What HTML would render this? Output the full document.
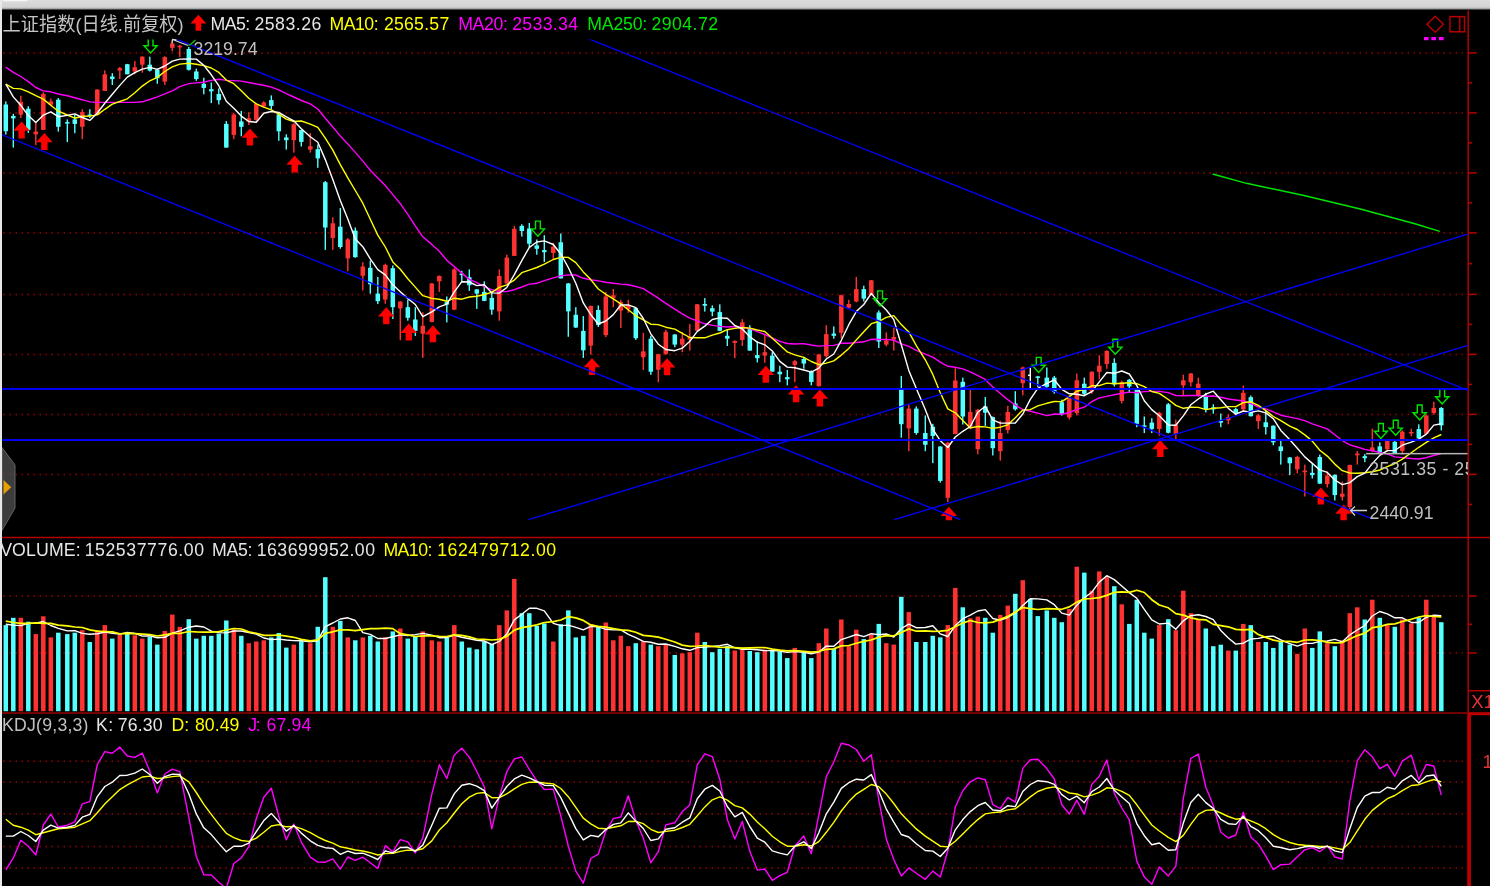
<!DOCTYPE html>
<html lang="zh"><head><meta charset="utf-8"><title>上证指数</title>
<style>html,body{margin:0;padding:0;background:#000;overflow:hidden}body{width:1490px;height:886px;position:relative}svg{will-change:transform;filter:blur(0.3px)}</style></head>
<body>
<svg width="1490" height="886" viewBox="0 0 1490 886" style="position:absolute;left:0;top:0">
<defs><linearGradient id="tg" x1="0" y1="0" x2="0" y2="1"><stop offset="0" stop-color="#dcdcdc"/><stop offset="0.68" stop-color="#d2d2d2"/><stop offset="0.8" stop-color="#a8a8a8"/><stop offset="0.97" stop-color="#000"/></linearGradient><clipPath id="cm"><rect x="2" y="39.5" width="1466" height="480.7"/></clipPath><clipPath id="cl"><rect x="2" y="9" width="1466" height="528"/></clipPath><clipPath id="ck"><rect x="2" y="714" width="1465" height="172"/></clipPath></defs>
<rect x="0" y="0" width="1490" height="886" fill="#000"/>
<g stroke="#a00000" stroke-width="1.5" stroke-dasharray="1.5 4.5">
<line x1="3.45" y1="52.9" x2="1464" y2="52.9"/>
<line x1="3.45" y1="112.9" x2="1464" y2="112.9"/>
<line x1="3.45" y1="172.9" x2="1464" y2="172.9"/>
<line x1="3.45" y1="232.9" x2="1464" y2="232.9"/>
<line x1="3.45" y1="294.4" x2="1464" y2="294.4"/>
<line x1="3.45" y1="354.4" x2="1464" y2="354.4"/>
<line x1="3.45" y1="414.4" x2="1464" y2="414.4"/>
<line x1="3.45" y1="474.4" x2="1464" y2="474.4"/>
<line x1="3.45" y1="596.0" x2="1464" y2="596.0"/>
<line x1="3.45" y1="653.0" x2="1464" y2="653.0"/>
<line x1="3.45" y1="761.2" x2="1464" y2="761.2"/>
<line x1="3.45" y1="781.9" x2="1464" y2="781.9"/>
<line x1="3.45" y1="813.7" x2="1464" y2="813.7"/>
<line x1="3.45" y1="846.6" x2="1464" y2="846.6"/>
<line x1="3.45" y1="867.9" x2="1464" y2="867.9"/>
</g>
<rect x="1352" y="458" width="115" height="20" fill="#000"/>
<g fill="#b40000">
<rect x="1467.45" y="9" width="1.5" height="705"/>
<rect x="1467.2" y="713" width="3.7" height="173" fill="#c00000"/>
<rect x="2" y="536.75" width="1488" height="1.5"/>
<rect x="2" y="712.2" width="1466" height="1.6" fill="#8c0000"/>
<rect x="1468" y="712.2" width="22" height="3" fill="#c00000"/>
<rect x="1468.9" y="52.15" width="7.8" height="1.5"/>
<rect x="1468.9" y="82.15" width="3.3" height="1.5"/>
<rect x="1468.9" y="112.15" width="7.8" height="1.5"/>
<rect x="1468.9" y="142.15" width="3.3" height="1.5"/>
<rect x="1468.9" y="172.15" width="7.8" height="1.5"/>
<rect x="1468.9" y="202.15" width="3.3" height="1.5"/>
<rect x="1468.9" y="232.15" width="7.8" height="1.5"/>
<rect x="1468.9" y="262.95" width="3.3" height="1.5"/>
<rect x="1468.9" y="293.65" width="7.8" height="1.5"/>
<rect x="1468.9" y="323.65" width="3.3" height="1.5"/>
<rect x="1468.9" y="353.65" width="7.8" height="1.5"/>
<rect x="1468.9" y="383.65" width="3.3" height="1.5"/>
<rect x="1468.9" y="413.65" width="7.8" height="1.5"/>
<rect x="1468.9" y="443.65" width="3.3" height="1.5"/>
<rect x="1468.9" y="473.65" width="7.8" height="1.5"/>
<rect x="1468.9" y="503.65" width="3.3" height="1.5"/>
<rect x="1468.9" y="595.25" width="7.8" height="1.5"/>
<rect x="1468.9" y="652.25" width="7.8" height="1.5"/>
<rect x="1468.9" y="623.5" width="3.3" height="1.5"/>
<rect x="1468.9" y="690" width="21.1" height="1.5"/>
</g>
<g clip-path="url(#cl)">
<g>
<rect x="5.10" y="101.4" width="1.4" height="33.2" fill="#54ffff"/>
<rect x="3.55" y="104.5" width="4.5" height="26.7" fill="#54ffff"/>
<rect x="12.60" y="113.8" width="1.4" height="33.8" fill="#54ffff"/>
<rect x="11.05" y="116.0" width="4.5" height="2.4" fill="#54ffff"/>
<rect x="20.10" y="95.7" width="1.4" height="22.3" fill="#ff3232"/>
<rect x="18.55" y="101.9" width="4.5" height="12.7" fill="#ff3232"/>
<rect x="27.60" y="106.2" width="1.4" height="26.7" fill="#54ffff"/>
<rect x="26.05" y="108.7" width="4.5" height="21.2" fill="#54ffff"/>
<rect x="35.10" y="122.8" width="1.4" height="22.3" fill="#ff3232"/>
<rect x="33.55" y="131.6" width="4.5" height="2.7" fill="#ff3232"/>
<rect x="42.60" y="92.3" width="1.4" height="37.6" fill="#ff3232"/>
<rect x="41.05" y="94.0" width="4.5" height="35.9" fill="#ff3232"/>
<rect x="50.10" y="98.6" width="1.4" height="7.6" fill="#ff3232"/>
<rect x="48.55" y="101.4" width="4.5" height="3.4" fill="#ff3232"/>
<rect x="57.60" y="98.0" width="1.4" height="33.6" fill="#54ffff"/>
<rect x="56.05" y="99.7" width="4.5" height="27.1" fill="#54ffff"/>
<rect x="66.60" y="119.4" width="1.4" height="22.7" fill="#54ffff"/>
<rect x="65.05" y="122.1" width="4.5" height="1.5" fill="#54ffff"/>
<rect x="74.10" y="114.6" width="1.4" height="18.6" fill="#54ffff"/>
<rect x="72.55" y="119.4" width="4.5" height="4.5" fill="#54ffff"/>
<rect x="81.60" y="109.2" width="1.4" height="30.0" fill="#ff3232"/>
<rect x="80.05" y="112.1" width="4.5" height="14.7" fill="#ff3232"/>
<rect x="89.10" y="109.2" width="1.4" height="8.8" fill="#54ffff"/>
<rect x="87.55" y="114.5" width="4.5" height="1.5" fill="#54ffff"/>
<rect x="96.60" y="89.2" width="1.4" height="25.4" fill="#ff3232"/>
<rect x="95.05" y="89.6" width="4.5" height="25.0" fill="#ff3232"/>
<rect x="104.10" y="70.3" width="1.4" height="20.6" fill="#ff3232"/>
<rect x="102.55" y="74.3" width="4.5" height="16.6" fill="#ff3232"/>
<rect x="111.60" y="73.2" width="1.4" height="11.8" fill="#54ffff"/>
<rect x="110.05" y="76.5" width="4.5" height="2.6" fill="#54ffff"/>
<rect x="119.10" y="66.9" width="1.4" height="12.2" fill="#ff3232"/>
<rect x="117.55" y="68.1" width="4.5" height="2.5" fill="#ff3232"/>
<rect x="126.60" y="63.9" width="1.4" height="10.4" fill="#54ffff"/>
<rect x="125.05" y="64.2" width="4.5" height="10.1" fill="#54ffff"/>
<rect x="134.10" y="61.0" width="1.4" height="13.3" fill="#ff3232"/>
<rect x="132.55" y="67.2" width="4.5" height="4.3" fill="#ff3232"/>
<rect x="141.60" y="56.2" width="1.4" height="16.5" fill="#ff3232"/>
<rect x="140.05" y="56.7" width="4.5" height="8.0" fill="#ff3232"/>
<rect x="149.10" y="56.7" width="1.4" height="14.8" fill="#54ffff"/>
<rect x="147.55" y="64.7" width="4.5" height="5.9" fill="#54ffff"/>
<rect x="156.60" y="68.6" width="1.4" height="15.2" fill="#54ffff"/>
<rect x="155.05" y="69.8" width="4.5" height="8.4" fill="#54ffff"/>
<rect x="164.10" y="56.2" width="1.4" height="28.8" fill="#ff3232"/>
<rect x="162.55" y="57.1" width="4.5" height="24.5" fill="#ff3232"/>
<rect x="171.60" y="39.8" width="1.4" height="11.4" fill="#ff3232"/>
<rect x="170.05" y="43.5" width="4.5" height="4.3" fill="#ff3232"/>
<rect x="179.10" y="44.9" width="1.4" height="12.2" fill="#ff3232"/>
<rect x="177.55" y="45.8" width="4.5" height="1.5" fill="#ff3232"/>
<rect x="188.10" y="46.9" width="1.4" height="23.7" fill="#54ffff"/>
<rect x="186.55" y="49.0" width="4.5" height="20.8" fill="#54ffff"/>
<rect x="195.60" y="68.6" width="1.4" height="12.2" fill="#54ffff"/>
<rect x="194.05" y="71.5" width="4.5" height="7.6" fill="#54ffff"/>
<rect x="203.10" y="77.7" width="1.4" height="16.6" fill="#54ffff"/>
<rect x="201.55" y="83.8" width="4.5" height="4.1" fill="#54ffff"/>
<rect x="210.60" y="82.5" width="1.4" height="20.6" fill="#54ffff"/>
<rect x="209.05" y="89.2" width="4.5" height="2.1" fill="#54ffff"/>
<rect x="218.10" y="88.4" width="1.4" height="16.1" fill="#54ffff"/>
<rect x="216.55" y="94.0" width="4.5" height="6.2" fill="#54ffff"/>
<rect x="225.60" y="121.1" width="1.4" height="26.5" fill="#54ffff"/>
<rect x="224.05" y="123.9" width="4.5" height="23.7" fill="#54ffff"/>
<rect x="233.10" y="112.9" width="1.4" height="26.3" fill="#ff3232"/>
<rect x="231.55" y="114.6" width="4.5" height="20.3" fill="#ff3232"/>
<rect x="240.60" y="110.9" width="1.4" height="25.4" fill="#54ffff"/>
<rect x="239.05" y="121.4" width="4.5" height="5.4" fill="#54ffff"/>
<rect x="248.10" y="112.3" width="1.4" height="12.7" fill="#ff3232"/>
<rect x="246.55" y="118.2" width="4.5" height="3.4" fill="#ff3232"/>
<rect x="255.60" y="103.5" width="1.4" height="18.1" fill="#ff3232"/>
<rect x="254.05" y="103.9" width="4.5" height="16.0" fill="#ff3232"/>
<rect x="263.10" y="101.3" width="1.4" height="6.3" fill="#ff3232"/>
<rect x="261.55" y="102.5" width="4.5" height="3.9" fill="#ff3232"/>
<rect x="270.60" y="95.4" width="1.4" height="13.9" fill="#54ffff"/>
<rect x="269.05" y="100.1" width="4.5" height="5.8" fill="#54ffff"/>
<rect x="278.10" y="113.2" width="1.4" height="27.6" fill="#54ffff"/>
<rect x="276.55" y="114.3" width="4.5" height="17.0" fill="#54ffff"/>
<rect x="285.60" y="134.3" width="1.4" height="15.3" fill="#54ffff"/>
<rect x="284.05" y="137.4" width="4.5" height="2.8" fill="#54ffff"/>
<rect x="293.10" y="123.3" width="1.4" height="29.3" fill="#ff3232"/>
<rect x="291.55" y="124.2" width="4.5" height="16.0" fill="#ff3232"/>
<rect x="300.60" y="129.6" width="1.4" height="16.9" fill="#54ffff"/>
<rect x="299.05" y="130.1" width="4.5" height="11.8" fill="#54ffff"/>
<rect x="309.60" y="133.0" width="1.4" height="19.6" fill="#ff3232"/>
<rect x="308.05" y="146.2" width="4.5" height="3.4" fill="#ff3232"/>
<rect x="317.10" y="144.5" width="1.4" height="23.3" fill="#54ffff"/>
<rect x="315.55" y="149.2" width="4.5" height="9.2" fill="#54ffff"/>
<rect x="324.60" y="181.0" width="1.4" height="68.9" fill="#54ffff"/>
<rect x="323.05" y="182.2" width="4.5" height="45.3" fill="#54ffff"/>
<rect x="332.10" y="217.4" width="1.4" height="32.5" fill="#ff3232"/>
<rect x="330.55" y="223.3" width="4.5" height="14.7" fill="#ff3232"/>
<rect x="339.60" y="208.1" width="1.4" height="40.6" fill="#54ffff"/>
<rect x="338.05" y="226.7" width="4.5" height="20.3" fill="#54ffff"/>
<rect x="347.10" y="238.0" width="1.4" height="33.2" fill="#ff3232"/>
<rect x="345.55" y="239.4" width="4.5" height="19.0" fill="#ff3232"/>
<rect x="354.60" y="227.5" width="1.4" height="30.2" fill="#54ffff"/>
<rect x="353.05" y="230.6" width="4.5" height="26.6" fill="#54ffff"/>
<rect x="362.10" y="262.2" width="1.4" height="28.3" fill="#ff3232"/>
<rect x="360.55" y="266.5" width="4.5" height="9.3" fill="#ff3232"/>
<rect x="369.60" y="260.6" width="1.4" height="33.0" fill="#54ffff"/>
<rect x="368.05" y="267.8" width="4.5" height="16.5" fill="#54ffff"/>
<rect x="377.10" y="277.0" width="1.4" height="27.1" fill="#54ffff"/>
<rect x="375.55" y="293.6" width="4.5" height="7.6" fill="#54ffff"/>
<rect x="384.60" y="263.7" width="1.4" height="40.1" fill="#ff3232"/>
<rect x="383.05" y="264.9" width="4.5" height="34.7" fill="#ff3232"/>
<rect x="392.10" y="265.4" width="1.4" height="53.6" fill="#54ffff"/>
<rect x="390.55" y="268.2" width="4.5" height="39.0" fill="#54ffff"/>
<rect x="399.60" y="301.2" width="1.4" height="39.0" fill="#ff3232"/>
<rect x="398.05" y="301.6" width="4.5" height="6.8" fill="#ff3232"/>
<rect x="407.10" y="299.6" width="1.4" height="21.1" fill="#54ffff"/>
<rect x="405.55" y="307.2" width="4.5" height="10.6" fill="#54ffff"/>
<rect x="414.60" y="307.2" width="1.4" height="28.7" fill="#54ffff"/>
<rect x="413.05" y="319.5" width="4.5" height="11.4" fill="#54ffff"/>
<rect x="422.10" y="312.2" width="1.4" height="45.7" fill="#ff3232"/>
<rect x="420.55" y="325.8" width="4.5" height="7.9" fill="#ff3232"/>
<rect x="431.10" y="283.0" width="1.4" height="39.4" fill="#ff3232"/>
<rect x="429.55" y="283.5" width="4.5" height="38.4" fill="#ff3232"/>
<rect x="438.60" y="275.5" width="1.4" height="16.4" fill="#ff3232"/>
<rect x="437.05" y="275.9" width="4.5" height="5.4" fill="#ff3232"/>
<rect x="446.10" y="296.5" width="1.4" height="25.9" fill="#54ffff"/>
<rect x="444.55" y="302.1" width="4.5" height="2.5" fill="#54ffff"/>
<rect x="453.60" y="268.2" width="1.4" height="41.8" fill="#ff3232"/>
<rect x="452.05" y="269.4" width="4.5" height="40.3" fill="#ff3232"/>
<rect x="461.10" y="270.8" width="1.4" height="11.0" fill="#54ffff"/>
<rect x="459.55" y="273.6" width="4.5" height="1.5" fill="#54ffff"/>
<rect x="468.60" y="269.4" width="1.4" height="21.4" fill="#54ffff"/>
<rect x="467.05" y="277.2" width="4.5" height="8.0" fill="#54ffff"/>
<rect x="476.10" y="289.1" width="1.4" height="19.8" fill="#54ffff"/>
<rect x="474.55" y="289.4" width="4.5" height="4.2" fill="#54ffff"/>
<rect x="483.60" y="281.3" width="1.4" height="19.9" fill="#54ffff"/>
<rect x="482.05" y="291.9" width="4.5" height="9.0" fill="#54ffff"/>
<rect x="491.10" y="291.1" width="1.4" height="23.7" fill="#54ffff"/>
<rect x="489.55" y="297.9" width="4.5" height="11.8" fill="#54ffff"/>
<rect x="498.60" y="269.4" width="1.4" height="51.3" fill="#ff3232"/>
<rect x="497.05" y="275.9" width="4.5" height="35.5" fill="#ff3232"/>
<rect x="506.10" y="254.7" width="1.4" height="28.8" fill="#ff3232"/>
<rect x="504.55" y="257.6" width="4.5" height="25.9" fill="#ff3232"/>
<rect x="513.60" y="225.9" width="1.4" height="30.0" fill="#ff3232"/>
<rect x="512.05" y="228.8" width="4.5" height="27.1" fill="#ff3232"/>
<rect x="521.10" y="224.2" width="1.4" height="12.4" fill="#54ffff"/>
<rect x="519.55" y="225.9" width="4.5" height="5.1" fill="#54ffff"/>
<rect x="528.60" y="223.0" width="1.4" height="24.1" fill="#54ffff"/>
<rect x="527.05" y="228.5" width="4.5" height="15.2" fill="#54ffff"/>
<rect x="536.10" y="239.5" width="1.4" height="15.2" fill="#54ffff"/>
<rect x="534.55" y="245.4" width="4.5" height="3.4" fill="#54ffff"/>
<rect x="543.60" y="235.2" width="1.4" height="26.8" fill="#54ffff"/>
<rect x="542.05" y="250.1" width="4.5" height="2.1" fill="#54ffff"/>
<rect x="552.60" y="242.9" width="1.4" height="16.0" fill="#ff3232"/>
<rect x="551.05" y="246.7" width="4.5" height="6.3" fill="#ff3232"/>
<rect x="560.10" y="233.5" width="1.4" height="44.9" fill="#54ffff"/>
<rect x="558.55" y="242.3" width="4.5" height="36.1" fill="#54ffff"/>
<rect x="567.60" y="283.0" width="1.4" height="53.8" fill="#54ffff"/>
<rect x="566.05" y="283.5" width="4.5" height="27.9" fill="#54ffff"/>
<rect x="575.10" y="307.2" width="1.4" height="20.8" fill="#54ffff"/>
<rect x="573.55" y="314.8" width="4.5" height="12.7" fill="#54ffff"/>
<rect x="582.60" y="316.1" width="1.4" height="41.8" fill="#54ffff"/>
<rect x="581.05" y="330.9" width="4.5" height="19.4" fill="#54ffff"/>
<rect x="590.10" y="305.5" width="1.4" height="49.1" fill="#ff3232"/>
<rect x="588.55" y="306.0" width="4.5" height="39.6" fill="#ff3232"/>
<rect x="597.60" y="305.5" width="1.4" height="21.5" fill="#54ffff"/>
<rect x="596.05" y="310.0" width="4.5" height="14.9" fill="#54ffff"/>
<rect x="605.10" y="291.9" width="1.4" height="45.2" fill="#ff3232"/>
<rect x="603.55" y="296.5" width="4.5" height="38.6" fill="#ff3232"/>
<rect x="612.60" y="289.1" width="1.4" height="18.1" fill="#ff3232"/>
<rect x="611.05" y="295.3" width="4.5" height="2.9" fill="#ff3232"/>
<rect x="620.10" y="299.9" width="1.4" height="28.1" fill="#ff3232"/>
<rect x="618.55" y="302.1" width="4.5" height="8.5" fill="#ff3232"/>
<rect x="627.60" y="299.8" width="1.4" height="13.0" fill="#ff3232"/>
<rect x="626.05" y="305.7" width="4.5" height="3.4" fill="#ff3232"/>
<rect x="635.10" y="307.4" width="1.4" height="32.5" fill="#54ffff"/>
<rect x="633.55" y="308.2" width="4.5" height="30.0" fill="#54ffff"/>
<rect x="642.60" y="332.8" width="1.4" height="37.2" fill="#ff3232"/>
<rect x="641.05" y="351.4" width="4.5" height="5.9" fill="#ff3232"/>
<rect x="650.10" y="335.8" width="1.4" height="39.0" fill="#54ffff"/>
<rect x="648.55" y="338.7" width="4.5" height="33.0" fill="#54ffff"/>
<rect x="657.60" y="353.9" width="1.4" height="28.3" fill="#ff3232"/>
<rect x="656.05" y="354.1" width="4.5" height="15.6" fill="#ff3232"/>
<rect x="665.10" y="329.7" width="1.4" height="25.1" fill="#ff3232"/>
<rect x="663.55" y="331.9" width="4.5" height="22.0" fill="#ff3232"/>
<rect x="674.10" y="334.1" width="1.4" height="13.1" fill="#54ffff"/>
<rect x="672.55" y="334.5" width="4.5" height="10.1" fill="#54ffff"/>
<rect x="681.60" y="331.9" width="1.4" height="20.3" fill="#ff3232"/>
<rect x="680.05" y="338.7" width="4.5" height="5.9" fill="#ff3232"/>
<rect x="689.10" y="324.0" width="1.4" height="26.6" fill="#ff3232"/>
<rect x="687.55" y="337.0" width="4.5" height="2.6" fill="#ff3232"/>
<rect x="696.60" y="304.0" width="1.4" height="27.1" fill="#ff3232"/>
<rect x="695.05" y="304.3" width="4.5" height="26.5" fill="#ff3232"/>
<rect x="704.10" y="298.1" width="1.4" height="13.5" fill="#54ffff"/>
<rect x="702.55" y="304.0" width="4.5" height="1.7" fill="#54ffff"/>
<rect x="711.60" y="305.4" width="1.4" height="10.8" fill="#54ffff"/>
<rect x="710.05" y="308.2" width="4.5" height="3.4" fill="#54ffff"/>
<rect x="719.10" y="304.3" width="1.4" height="26.8" fill="#54ffff"/>
<rect x="717.55" y="312.1" width="4.5" height="18.7" fill="#54ffff"/>
<rect x="726.60" y="329.1" width="1.4" height="16.9" fill="#54ffff"/>
<rect x="725.05" y="335.8" width="4.5" height="2.9" fill="#54ffff"/>
<rect x="734.10" y="340.4" width="1.4" height="17.8" fill="#ff3232"/>
<rect x="732.55" y="340.9" width="4.5" height="2.0" fill="#ff3232"/>
<rect x="741.60" y="319.2" width="1.4" height="26.8" fill="#ff3232"/>
<rect x="740.05" y="322.3" width="4.5" height="17.6" fill="#ff3232"/>
<rect x="749.10" y="325.2" width="1.4" height="25.4" fill="#54ffff"/>
<rect x="747.55" y="328.0" width="4.5" height="22.6" fill="#54ffff"/>
<rect x="756.60" y="341.2" width="1.4" height="21.2" fill="#54ffff"/>
<rect x="755.05" y="355.1" width="4.5" height="3.1" fill="#54ffff"/>
<rect x="764.10" y="334.8" width="1.4" height="28.1" fill="#ff3232"/>
<rect x="762.55" y="352.2" width="4.5" height="3.4" fill="#ff3232"/>
<rect x="771.60" y="352.2" width="1.4" height="19.5" fill="#54ffff"/>
<rect x="770.05" y="355.6" width="4.5" height="16.1" fill="#54ffff"/>
<rect x="779.10" y="365.8" width="1.4" height="16.4" fill="#54ffff"/>
<rect x="777.55" y="371.7" width="4.5" height="2.6" fill="#54ffff"/>
<rect x="786.60" y="370.0" width="1.4" height="15.3" fill="#54ffff"/>
<rect x="785.05" y="377.1" width="4.5" height="2.2" fill="#54ffff"/>
<rect x="794.10" y="359.9" width="1.4" height="22.3" fill="#ff3232"/>
<rect x="792.55" y="361.2" width="4.5" height="3.7" fill="#ff3232"/>
<rect x="803.10" y="356.8" width="1.4" height="11.9" fill="#54ffff"/>
<rect x="801.55" y="359.0" width="4.5" height="4.6" fill="#54ffff"/>
<rect x="810.60" y="370.4" width="1.4" height="14.9" fill="#54ffff"/>
<rect x="809.05" y="371.4" width="4.5" height="10.5" fill="#54ffff"/>
<rect x="818.10" y="353.9" width="1.4" height="32.7" fill="#ff3232"/>
<rect x="816.55" y="354.4" width="4.5" height="31.7" fill="#ff3232"/>
<rect x="825.60" y="325.2" width="1.4" height="32.6" fill="#ff3232"/>
<rect x="824.05" y="334.1" width="4.5" height="22.0" fill="#ff3232"/>
<rect x="833.10" y="326.4" width="1.4" height="12.3" fill="#54ffff"/>
<rect x="831.55" y="333.6" width="4.5" height="2.2" fill="#54ffff"/>
<rect x="840.60" y="294.7" width="1.4" height="43.5" fill="#ff3232"/>
<rect x="839.05" y="295.2" width="4.5" height="37.6" fill="#ff3232"/>
<rect x="848.10" y="299.8" width="1.4" height="9.3" fill="#ff3232"/>
<rect x="846.55" y="304.0" width="4.5" height="3.7" fill="#ff3232"/>
<rect x="855.60" y="276.9" width="1.4" height="25.4" fill="#ff3232"/>
<rect x="854.05" y="289.1" width="4.5" height="12.4" fill="#ff3232"/>
<rect x="863.10" y="285.7" width="1.4" height="15.8" fill="#54ffff"/>
<rect x="861.55" y="289.1" width="4.5" height="9.5" fill="#54ffff"/>
<rect x="870.60" y="280.0" width="1.4" height="15.5" fill="#ff3232"/>
<rect x="869.05" y="280.3" width="4.5" height="14.4" fill="#ff3232"/>
<rect x="878.10" y="310.4" width="1.4" height="37.6" fill="#54ffff"/>
<rect x="876.55" y="312.5" width="4.5" height="29.1" fill="#54ffff"/>
<rect x="885.60" y="332.4" width="1.4" height="13.9" fill="#ff3232"/>
<rect x="884.05" y="340.4" width="4.5" height="4.2" fill="#ff3232"/>
<rect x="893.10" y="327.7" width="1.4" height="22.9" fill="#ff3232"/>
<rect x="891.55" y="337.0" width="4.5" height="2.6" fill="#ff3232"/>
<rect x="900.60" y="375.9" width="1.4" height="61.8" fill="#54ffff"/>
<rect x="899.05" y="389.0" width="4.5" height="35.2" fill="#54ffff"/>
<rect x="908.10" y="404.7" width="1.4" height="46.5" fill="#ff3232"/>
<rect x="906.55" y="408.6" width="4.5" height="19.8" fill="#ff3232"/>
<rect x="915.60" y="406.4" width="1.4" height="28.3" fill="#54ffff"/>
<rect x="914.05" y="408.6" width="4.5" height="24.4" fill="#54ffff"/>
<rect x="924.60" y="415.4" width="1.4" height="35.8" fill="#54ffff"/>
<rect x="923.05" y="433.0" width="4.5" height="11.8" fill="#54ffff"/>
<rect x="932.10" y="423.8" width="1.4" height="39.3" fill="#54ffff"/>
<rect x="930.55" y="426.7" width="4.5" height="9.3" fill="#54ffff"/>
<rect x="939.60" y="446.2" width="1.4" height="36.4" fill="#54ffff"/>
<rect x="938.05" y="446.5" width="4.5" height="34.4" fill="#54ffff"/>
<rect x="947.10" y="441.9" width="1.4" height="60.1" fill="#ff3232"/>
<rect x="945.55" y="442.8" width="4.5" height="55.0" fill="#ff3232"/>
<rect x="954.60" y="368.3" width="1.4" height="66.0" fill="#ff3232"/>
<rect x="953.05" y="380.5" width="4.5" height="53.5" fill="#ff3232"/>
<rect x="962.10" y="377.6" width="1.4" height="46.9" fill="#54ffff"/>
<rect x="960.55" y="381.8" width="4.5" height="34.7" fill="#54ffff"/>
<rect x="969.60" y="389.5" width="1.4" height="39.7" fill="#ff3232"/>
<rect x="968.05" y="412.0" width="4.5" height="16.4" fill="#ff3232"/>
<rect x="977.10" y="408.9" width="1.4" height="45.4" fill="#ff3232"/>
<rect x="975.55" y="409.8" width="4.5" height="39.4" fill="#ff3232"/>
<rect x="984.60" y="397.1" width="1.4" height="28.8" fill="#54ffff"/>
<rect x="983.05" y="406.4" width="4.5" height="6.3" fill="#54ffff"/>
<rect x="992.10" y="416.5" width="1.4" height="39.0" fill="#54ffff"/>
<rect x="990.55" y="417.1" width="4.5" height="31.1" fill="#54ffff"/>
<rect x="999.60" y="420.8" width="1.4" height="39.8" fill="#ff3232"/>
<rect x="998.05" y="433.0" width="4.5" height="18.2" fill="#ff3232"/>
<rect x="1007.10" y="405.9" width="1.4" height="27.6" fill="#ff3232"/>
<rect x="1005.55" y="412.0" width="4.5" height="18.1" fill="#ff3232"/>
<rect x="1014.60" y="391.2" width="1.4" height="19.4" fill="#54ffff"/>
<rect x="1013.05" y="403.5" width="4.5" height="5.8" fill="#54ffff"/>
<rect x="1022.10" y="366.6" width="1.4" height="28.8" fill="#ff3232"/>
<rect x="1020.55" y="367.5" width="4.5" height="15.7" fill="#ff3232"/>
<rect x="1029.60" y="368.0" width="1.4" height="20.6" fill="#ffffff"/>
<rect x="1028.05" y="374.5" width="3" height="1.5" fill="#ffffff"/>
<rect x="1037.10" y="375.9" width="1.4" height="11.0" fill="#54ffff"/>
<rect x="1035.55" y="376.4" width="4.5" height="1.5" fill="#54ffff"/>
<rect x="1046.10" y="367.5" width="1.4" height="20.3" fill="#54ffff"/>
<rect x="1044.55" y="377.6" width="4.5" height="9.3" fill="#54ffff"/>
<rect x="1053.60" y="375.9" width="1.4" height="17.8" fill="#54ffff"/>
<rect x="1052.05" y="377.6" width="4.5" height="14.4" fill="#54ffff"/>
<rect x="1061.10" y="399.6" width="1.4" height="16.1" fill="#54ffff"/>
<rect x="1059.55" y="402.2" width="4.5" height="12.1" fill="#54ffff"/>
<rect x="1068.60" y="395.4" width="1.4" height="24.0" fill="#ff3232"/>
<rect x="1067.05" y="397.9" width="4.5" height="19.5" fill="#ff3232"/>
<rect x="1076.10" y="373.5" width="1.4" height="41.8" fill="#ff3232"/>
<rect x="1074.55" y="380.3" width="4.5" height="32.8" fill="#ff3232"/>
<rect x="1083.60" y="377.6" width="1.4" height="17.9" fill="#54ffff"/>
<rect x="1082.05" y="383.7" width="4.5" height="10.1" fill="#54ffff"/>
<rect x="1091.10" y="371.3" width="1.4" height="22.5" fill="#ff3232"/>
<rect x="1089.55" y="371.8" width="4.5" height="19.8" fill="#ff3232"/>
<rect x="1098.60" y="355.2" width="1.4" height="24.1" fill="#ff3232"/>
<rect x="1097.05" y="365.7" width="4.5" height="6.1" fill="#ff3232"/>
<rect x="1106.10" y="350.2" width="1.4" height="18.6" fill="#ff3232"/>
<rect x="1104.55" y="351.0" width="4.5" height="13.0" fill="#ff3232"/>
<rect x="1113.60" y="358.3" width="1.4" height="28.2" fill="#54ffff"/>
<rect x="1112.05" y="362.9" width="4.5" height="21.4" fill="#54ffff"/>
<rect x="1121.10" y="380.6" width="1.4" height="22.9" fill="#ff3232"/>
<rect x="1119.55" y="382.3" width="4.5" height="18.6" fill="#ff3232"/>
<rect x="1128.60" y="378.9" width="1.4" height="13.9" fill="#54ffff"/>
<rect x="1127.05" y="379.8" width="4.5" height="6.7" fill="#54ffff"/>
<rect x="1136.10" y="388.2" width="1.4" height="39.0" fill="#54ffff"/>
<rect x="1134.55" y="389.4" width="4.5" height="34.4" fill="#54ffff"/>
<rect x="1143.60" y="416.5" width="1.4" height="16.6" fill="#54ffff"/>
<rect x="1142.05" y="425.4" width="4.5" height="1.5" fill="#54ffff"/>
<rect x="1151.10" y="418.2" width="1.4" height="14.9" fill="#54ffff"/>
<rect x="1149.55" y="422.6" width="4.5" height="6.3" fill="#54ffff"/>
<rect x="1158.60" y="411.9" width="1.4" height="23.7" fill="#ff3232"/>
<rect x="1157.05" y="412.8" width="4.5" height="16.1" fill="#ff3232"/>
<rect x="1167.60" y="403.0" width="1.4" height="30.4" fill="#54ffff"/>
<rect x="1166.05" y="404.3" width="4.5" height="28.5" fill="#54ffff"/>
<rect x="1175.10" y="419.6" width="1.4" height="19.4" fill="#ff3232"/>
<rect x="1173.55" y="424.6" width="4.5" height="9.3" fill="#ff3232"/>
<rect x="1182.60" y="374.7" width="1.4" height="21.2" fill="#ff3232"/>
<rect x="1181.05" y="380.3" width="4.5" height="5.1" fill="#ff3232"/>
<rect x="1190.10" y="373.0" width="1.4" height="13.5" fill="#ff3232"/>
<rect x="1188.55" y="373.5" width="4.5" height="8.8" fill="#ff3232"/>
<rect x="1197.60" y="377.6" width="1.4" height="19.1" fill="#ff3232"/>
<rect x="1196.05" y="383.7" width="4.5" height="12.2" fill="#ff3232"/>
<rect x="1205.10" y="392.8" width="1.4" height="19.6" fill="#54ffff"/>
<rect x="1203.55" y="395.9" width="4.5" height="13.2" fill="#54ffff"/>
<rect x="1212.60" y="404.3" width="1.4" height="9.3" fill="#54ffff"/>
<rect x="1211.05" y="407.4" width="4.5" height="2.0" fill="#54ffff"/>
<rect x="1220.10" y="413.6" width="1.4" height="13.6" fill="#54ffff"/>
<rect x="1218.55" y="420.9" width="4.5" height="1.7" fill="#54ffff"/>
<rect x="1227.60" y="414.5" width="1.4" height="9.8" fill="#ff3232"/>
<rect x="1226.05" y="417.0" width="4.5" height="3.4" fill="#ff3232"/>
<rect x="1235.10" y="407.7" width="1.4" height="7.6" fill="#54ffff"/>
<rect x="1233.55" y="409.1" width="4.5" height="4.0" fill="#54ffff"/>
<rect x="1242.60" y="385.4" width="1.4" height="25.7" fill="#ff3232"/>
<rect x="1241.05" y="392.8" width="4.5" height="16.6" fill="#ff3232"/>
<rect x="1250.10" y="395.5" width="1.4" height="21.0" fill="#54ffff"/>
<rect x="1248.55" y="397.2" width="4.5" height="19.0" fill="#54ffff"/>
<rect x="1257.60" y="414.1" width="1.4" height="14.8" fill="#ff3232"/>
<rect x="1256.05" y="415.3" width="4.5" height="5.9" fill="#ff3232"/>
<rect x="1265.10" y="410.8" width="1.4" height="23.7" fill="#54ffff"/>
<rect x="1263.55" y="422.3" width="4.5" height="4.8" fill="#54ffff"/>
<rect x="1272.60" y="425.4" width="1.4" height="19.8" fill="#54ffff"/>
<rect x="1271.05" y="425.7" width="4.5" height="16.6" fill="#54ffff"/>
<rect x="1280.10" y="440.6" width="1.4" height="24.0" fill="#54ffff"/>
<rect x="1278.55" y="446.4" width="4.5" height="4.7" fill="#54ffff"/>
<rect x="1289.10" y="457.0" width="1.4" height="18.1" fill="#54ffff"/>
<rect x="1287.55" y="457.5" width="4.5" height="5.8" fill="#54ffff"/>
<rect x="1296.60" y="455.8" width="1.4" height="17.6" fill="#ff3232"/>
<rect x="1295.05" y="457.0" width="4.5" height="12.4" fill="#ff3232"/>
<rect x="1304.10" y="464.6" width="1.4" height="31.9" fill="#ff3232"/>
<rect x="1302.55" y="470.6" width="4.5" height="1.6" fill="#ff3232"/>
<rect x="1311.60" y="463.8" width="1.4" height="14.7" fill="#54ffff"/>
<rect x="1310.05" y="472.8" width="4.5" height="2.3" fill="#54ffff"/>
<rect x="1319.10" y="454.5" width="1.4" height="29.6" fill="#54ffff"/>
<rect x="1317.55" y="457.0" width="4.5" height="26.6" fill="#54ffff"/>
<rect x="1326.60" y="471.4" width="1.4" height="16.1" fill="#ff3232"/>
<rect x="1325.05" y="475.6" width="4.5" height="8.5" fill="#ff3232"/>
<rect x="1334.10" y="474.4" width="1.4" height="26.1" fill="#54ffff"/>
<rect x="1332.55" y="474.8" width="4.5" height="20.3" fill="#54ffff"/>
<rect x="1341.60" y="481.6" width="1.4" height="18.9" fill="#ff3232"/>
<rect x="1340.05" y="493.7" width="4.5" height="3.1" fill="#ff3232"/>
<rect x="1349.10" y="464.6" width="1.4" height="44.9" fill="#ff3232"/>
<rect x="1347.55" y="465.0" width="4.5" height="41.9" fill="#ff3232"/>
<rect x="1356.60" y="451.1" width="1.4" height="13.5" fill="#ff3232"/>
<rect x="1355.05" y="453.6" width="4.5" height="1.7" fill="#ff3232"/>
<rect x="1364.10" y="454.1" width="1.4" height="8.0" fill="#54ffff"/>
<rect x="1362.55" y="456.2" width="4.5" height="2.0" fill="#54ffff"/>
<rect x="1371.60" y="428.7" width="1.4" height="23.2" fill="#ff3232"/>
<rect x="1370.05" y="447.4" width="4.5" height="3.7" fill="#ff3232"/>
<rect x="1379.10" y="442.3" width="1.4" height="10.8" fill="#54ffff"/>
<rect x="1377.55" y="446.4" width="4.5" height="6.4" fill="#54ffff"/>
<rect x="1386.60" y="440.6" width="1.4" height="11.3" fill="#ff3232"/>
<rect x="1385.05" y="440.9" width="4.5" height="8.5" fill="#ff3232"/>
<rect x="1394.10" y="440.6" width="1.4" height="13.0" fill="#54ffff"/>
<rect x="1392.55" y="441.8" width="4.5" height="11.3" fill="#54ffff"/>
<rect x="1401.60" y="430.4" width="1.4" height="24.1" fill="#ff3232"/>
<rect x="1400.05" y="431.6" width="4.5" height="19.5" fill="#ff3232"/>
<rect x="1410.60" y="428.7" width="1.4" height="7.5" fill="#ff3232"/>
<rect x="1409.05" y="432.0" width="4.5" height="1.5" fill="#ff3232"/>
<rect x="1418.10" y="424.3" width="1.4" height="14.6" fill="#54ffff"/>
<rect x="1416.55" y="429.1" width="4.5" height="9.3" fill="#54ffff"/>
<rect x="1425.60" y="414.7" width="1.4" height="19.5" fill="#ff3232"/>
<rect x="1424.05" y="415.5" width="4.5" height="18.3" fill="#ff3232"/>
<rect x="1433.10" y="401.7" width="1.4" height="13.0" fill="#ff3232"/>
<rect x="1431.55" y="407.9" width="4.5" height="5.1" fill="#ff3232"/>
<rect x="1440.60" y="407.1" width="1.4" height="23.3" fill="#54ffff"/>
<rect x="1439.05" y="407.9" width="4.5" height="17.5" fill="#54ffff"/>
</g>
<g>
<polyline fill="none" stroke="#ff00ff" stroke-width="1.4" stroke-linejoin="round" points="5.8,67.2 13.3,72.3 20.8,76.5 28.3,81.6 35.8,87.5 43.3,90.9 50.8,91.8 58.3,94.0 67.3,95.7 74.8,97.7 82.3,99.7 89.8,101.9 97.3,102.4 104.8,102.4 112.3,102.4 119.8,102.4 127.3,102.4 134.8,102.4 142.3,101.8 149.8,99.5 157.3,96.9 164.8,93.8 172.3,90.9 179.8,86.7 188.8,83.6 196.3,82.9 203.8,82.2 211.3,80.4 218.8,79.3 226.3,80.4 233.8,80.6 241.3,81.1 248.8,82.5 256.3,84.0 263.8,85.2 271.3,87.1 278.8,89.9 286.3,93.6 293.8,97.0 301.3,100.5 310.3,103.9 317.8,109.0 325.3,118.2 332.8,127.0 340.3,135.9 347.8,143.9 355.3,152.4 362.8,161.1 370.3,170.3 377.8,178.0 385.3,185.5 392.8,194.6 400.3,203.7 407.8,214.4 415.3,225.8 422.8,236.8 431.8,244.4 439.3,251.2 446.8,260.3 454.3,266.6 461.8,273.1 469.3,279.4 476.8,282.7 484.3,286.6 491.8,289.7 499.3,291.6 506.8,291.6 514.3,289.7 521.8,287.0 529.3,284.1 536.8,283.3 544.3,280.6 553.3,277.9 560.8,275.9 568.3,274.9 575.8,275.0 583.3,278.3 590.8,279.8 598.3,280.9 605.8,282.2 613.3,283.2 620.8,284.1 628.3,284.7 635.8,286.5 643.3,288.6 650.8,293.4 658.3,298.2 665.8,303.4 674.8,309.1 682.3,313.8 689.8,318.2 697.3,320.8 704.8,323.8 712.3,325.4 719.8,326.4 727.3,327.0 734.8,326.5 742.3,327.3 749.8,328.6 757.3,331.7 764.8,334.5 772.3,338.0 779.8,341.4 787.3,343.5 794.8,344.0 803.8,343.6 811.3,345.0 818.8,346.1 826.3,345.6 833.8,345.4 841.3,343.3 848.8,343.3 856.3,342.5 863.8,341.8 871.3,339.3 878.8,339.5 886.3,339.4 893.8,340.2 901.3,343.9 908.8,346.4 916.3,350.4 925.3,354.1 932.8,357.2 940.3,362.2 947.8,366.3 955.3,367.2 962.8,368.9 970.3,371.8 977.8,375.6 985.3,379.4 992.8,387.1 1000.3,393.5 1007.8,399.6 1015.3,405.2 1022.8,409.5 1030.3,411.2 1037.8,413.1 1046.8,415.6 1054.3,414.0 1061.8,414.3 1069.3,412.5 1076.8,409.3 1084.3,407.2 1091.8,401.7 1099.3,397.9 1106.8,396.4 1114.3,394.8 1121.8,393.3 1129.3,392.1 1136.8,392.7 1144.3,391.6 1151.8,391.4 1159.3,391.4 1168.3,392.6 1175.8,395.5 1183.3,395.7 1190.8,395.5 1198.3,395.4 1205.8,396.2 1213.3,396.0 1220.8,397.2 1228.3,399.0 1235.8,400.0 1243.3,401.0 1250.8,403.6 1258.3,406.8 1265.8,408.9 1273.3,411.9 1280.8,415.2 1289.8,417.1 1297.3,418.6 1304.8,420.7 1312.3,423.8 1319.8,426.4 1327.3,428.9 1334.8,434.7 1342.3,440.7 1349.8,444.8 1357.3,447.0 1364.8,449.4 1372.3,450.7 1379.8,452.4 1387.3,453.8 1394.8,456.9 1402.3,457.6 1411.3,458.5 1418.8,459.0 1426.3,457.7 1433.8,455.5 1441.3,453.6" />
<polyline fill="none" stroke="#ffff00" stroke-width="1.4" stroke-linejoin="round" points="5.8,84.2 13.3,88.4 20.8,88.9 28.3,91.8 35.8,95.7 43.3,99.1 50.8,105.3 58.3,111.2 67.3,115.0 74.8,118.2 82.3,116.3 89.8,116.1 97.3,114.9 104.8,109.3 112.3,104.1 119.8,101.5 127.3,98.8 134.8,92.8 142.3,86.1 149.8,80.8 157.3,77.4 164.8,71.5 172.3,66.9 179.8,64.1 188.8,63.2 196.3,64.3 203.8,65.6 211.3,68.0 218.8,72.4 226.3,80.1 233.8,83.7 241.3,90.7 248.8,98.2 256.3,103.9 263.8,107.2 271.3,109.9 278.8,114.2 286.3,119.1 293.8,121.5 301.3,121.0 310.3,124.1 317.8,127.3 325.3,138.2 332.8,150.1 340.3,164.6 347.8,177.9 355.3,190.5 362.8,203.2 370.3,219.2 377.8,235.1 385.3,247.0 392.8,261.9 400.3,269.3 407.8,278.7 415.3,287.1 422.8,295.7 431.8,298.4 439.3,299.3 446.8,301.3 454.3,298.2 461.8,299.2 469.3,297.0 476.8,296.2 484.3,294.5 491.8,292.4 499.3,287.4 506.8,284.8 514.3,280.1 521.8,272.7 529.3,270.1 536.8,267.5 544.3,264.2 553.3,259.5 560.8,257.3 568.3,257.4 575.8,262.6 583.3,271.9 590.8,279.6 598.3,289.0 605.8,294.3 613.3,298.9 620.8,303.9 628.3,309.8 635.8,315.8 643.3,319.8 650.8,324.2 658.3,324.6 665.8,327.2 674.8,329.1 682.3,333.4 689.8,337.5 697.3,337.8 704.8,337.8 712.3,335.1 719.8,333.0 727.3,329.7 734.8,328.4 742.3,327.5 749.8,328.1 757.3,330.0 764.8,331.5 772.3,338.3 779.8,345.1 787.3,351.9 794.8,354.9 803.8,357.4 811.3,361.5 818.8,364.7 826.3,363.1 833.8,360.9 841.3,355.1 848.8,348.4 856.3,339.9 863.8,331.8 871.3,323.7 878.8,321.5 886.3,317.4 893.8,315.6 901.3,324.6 908.8,331.9 916.3,345.7 925.3,359.8 932.8,374.4 940.3,392.7 947.8,408.9 955.3,412.8 962.8,420.4 970.3,427.9 977.8,426.5 985.3,426.9 992.8,428.4 1000.3,427.2 1007.8,424.8 1015.3,417.7 1022.8,410.1 1030.3,409.6 1037.8,405.8 1046.8,403.3 1054.3,401.5 1061.8,401.6 1069.3,396.6 1076.8,391.3 1084.3,389.5 1091.8,385.8 1099.3,385.6 1106.8,383.1 1114.3,383.8 1121.8,383.3 1129.3,382.8 1136.8,383.7 1144.3,386.6 1151.8,391.5 1159.3,393.4 1168.3,399.5 1175.8,405.4 1183.3,408.3 1190.8,407.2 1198.3,407.4 1205.8,409.6 1213.3,408.2 1220.8,407.8 1228.3,406.6 1235.8,406.6 1243.3,402.6 1250.8,401.8 1258.3,405.3 1265.8,410.6 1273.3,416.5 1280.8,420.7 1289.8,426.1 1297.3,429.5 1304.8,434.9 1312.3,441.1 1319.8,450.2 1327.3,456.1 1334.8,464.1 1342.3,470.7 1349.8,473.0 1357.3,473.3 1364.8,472.8 1372.3,471.8 1379.8,470.0 1387.3,466.6 1394.8,463.5 1402.3,459.1 1411.3,452.8 1418.8,447.3 1426.3,442.4 1433.8,437.8 1441.3,434.5" />
<polyline fill="none" stroke="#ffffff" stroke-width="1.4" stroke-linejoin="round" points="5.8,84.2 13.3,96.9 20.8,105.3 28.3,115.5 35.8,122.6 43.3,115.2 50.8,111.8 58.3,116.7 67.3,115.4 74.8,113.9 82.3,117.5 89.8,120.4 97.3,113.0 104.8,103.2 112.3,94.2 119.8,85.4 127.3,77.1 134.8,72.6 142.3,69.1 149.8,67.4 157.3,69.4 164.8,66.0 172.3,61.2 179.8,59.1 188.8,58.9 196.3,59.1 203.8,65.3 211.3,74.8 218.8,85.7 226.3,101.2 233.8,108.3 241.3,116.1 248.8,121.5 256.3,122.2 263.8,113.2 271.3,111.5 278.8,112.4 286.3,116.8 293.8,120.8 301.3,128.7 310.3,136.8 317.8,142.2 325.3,159.6 332.8,179.5 340.3,200.5 347.8,219.1 355.3,238.9 362.8,246.7 370.3,258.9 377.8,269.7 385.3,274.8 392.8,284.8 400.3,291.8 407.8,298.5 415.3,304.5 422.8,316.7 431.8,311.9 439.3,306.8 446.8,304.1 454.3,291.8 461.8,281.7 469.3,282.0 476.8,285.6 484.3,284.8 491.8,292.9 499.3,293.1 506.8,287.5 514.3,274.6 521.8,260.6 529.3,247.4 536.8,242.0 544.3,240.9 553.3,244.5 560.8,254.0 568.3,267.5 575.8,283.2 583.3,302.9 590.8,314.7 598.3,324.0 605.8,321.0 613.3,314.6 620.8,305.0 628.3,304.9 635.8,307.6 643.3,318.5 650.8,333.8 658.3,344.2 665.8,349.5 674.8,350.7 682.3,348.2 689.8,341.3 697.3,331.3 704.8,326.1 712.3,319.5 719.8,317.9 727.3,318.2 734.8,325.5 742.3,328.9 749.8,336.7 757.3,342.1 764.8,344.8 772.3,351.0 779.8,361.4 787.3,367.1 794.8,367.7 803.8,370.0 811.3,372.1 818.8,368.1 826.3,359.0 833.8,354.0 841.3,340.3 848.8,324.7 856.3,311.6 863.8,304.5 871.3,293.4 878.8,302.7 886.3,310.0 893.8,319.6 901.3,344.7 908.8,370.4 916.3,388.6 925.3,409.5 932.8,429.3 940.3,440.7 947.8,447.5 955.3,437.0 962.8,431.3 970.3,426.5 977.8,412.3 985.3,406.3 992.8,419.8 1000.3,423.1 1007.8,423.1 1015.3,423.0 1022.8,414.0 1030.3,399.4 1037.8,388.4 1046.8,383.4 1054.3,379.9 1061.8,389.3 1069.3,393.8 1076.8,394.3 1084.3,395.7 1091.8,391.6 1099.3,381.9 1106.8,372.5 1114.3,373.3 1121.8,371.0 1129.3,374.0 1136.8,385.6 1144.3,400.7 1151.8,409.6 1159.3,415.7 1168.3,425.0 1175.8,425.2 1183.3,415.9 1190.8,404.8 1198.3,399.0 1205.8,394.2 1213.3,391.2 1220.8,399.7 1228.3,408.4 1235.8,414.2 1243.3,411.0 1250.8,412.3 1258.3,410.9 1265.8,412.9 1273.3,418.7 1280.8,430.4 1289.8,439.8 1297.3,448.2 1304.8,456.9 1312.3,463.4 1319.8,469.9 1327.3,472.4 1334.8,480.0 1342.3,484.6 1349.8,482.6 1357.3,476.6 1364.8,473.1 1372.3,463.6 1379.8,455.4 1387.3,450.6 1394.8,450.5 1402.3,445.2 1411.3,442.1 1418.8,439.2 1426.3,434.1 1433.8,425.1 1441.3,423.8" />
<polyline fill="none" stroke="#00e600" stroke-width="1.4" stroke-linejoin="round" points="1212.6,174 1246.4,183.3 1302.9,195.2 1359.3,208.7 1415.8,224 1439.8,231.3" />
</g>
</g>
<g clip-path="url(#cm)">
<path d="M21.6,121.4 L29.900000000000002,130.70000000000002 L24.8,130.70000000000002 L24.8,138.4 L18.400000000000002,138.4 L18.400000000000002,130.70000000000002 L13.3,130.70000000000002 Z" fill="#ff0000"/>
<path d="M44.4,132.9 L52.7,142.20000000000002 L47.6,142.20000000000002 L47.6,149.9 L41.199999999999996,149.9 L41.199999999999996,142.20000000000002 L36.099999999999994,142.20000000000002 Z" fill="#ff0000"/>
<path d="M249.9,128.4 L258.2,137.70000000000002 L253.1,137.70000000000002 L253.1,145.4 L246.70000000000002,145.4 L246.70000000000002,137.70000000000002 L241.6,137.70000000000002 Z" fill="#ff0000"/>
<path d="M294.7,155.5 L303.0,164.8 L297.9,164.8 L297.9,172.5 L291.5,172.5 L291.5,164.8 L286.4,164.8 Z" fill="#ff0000"/>
<path d="M386.3,307.2 L394.6,316.5 L389.5,316.5 L389.5,324.2 L383.1,324.2 L383.1,316.5 L378.0,316.5 Z" fill="#ff0000"/>
<path d="M408.8,323.6 L417.1,332.90000000000003 L412.0,332.90000000000003 L412.0,340.6 L405.6,340.6 L405.6,332.90000000000003 L400.5,332.90000000000003 Z" fill="#ff0000"/>
<path d="M432.9,325.3 L441.2,334.6 L436.09999999999997,334.6 L436.09999999999997,342.3 L429.7,342.3 L429.7,334.6 L424.59999999999997,334.6 Z" fill="#ff0000"/>
<path d="M592.0,358 L600.3,367.3 L595.2,367.3 L595.2,375 L588.8,375 L588.8,367.3 L583.7,367.3 Z" fill="#ff0000"/>
<path d="M667.1,358.2 L675.4,367.5 L670.3000000000001,367.5 L670.3000000000001,375.2 L663.9,375.2 L663.9,367.5 L658.8000000000001,367.5 Z" fill="#ff0000"/>
<path d="M765.8,365.8 L774.0999999999999,375.1 L769.0,375.1 L769.0,382.8 L762.5999999999999,382.8 L762.5999999999999,375.1 L757.5,375.1 Z" fill="#ff0000"/>
<path d="M796.1,385.3 L804.4,394.6 L799.3000000000001,394.6 L799.3000000000001,402.3 L792.9,402.3 L792.9,394.6 L787.8000000000001,394.6 Z" fill="#ff0000"/>
<path d="M819.9,389.5 L828.1999999999999,398.8 L823.1,398.8 L823.1,406.5 L816.6999999999999,406.5 L816.6999999999999,398.8 L811.6,398.8 Z" fill="#ff0000"/>
<path d="M948.9,506.8 L957.1999999999999,516.1 L952.1,516.1 L952.1,523.8 L945.6999999999999,523.8 L945.6999999999999,516.1 L940.6,516.1 Z" fill="#ff0000"/>
<path d="M1160.3,439.9 L1168.6,449.2 L1163.5,449.2 L1163.5,456.9 L1157.1,456.9 L1157.1,449.2 L1152.0,449.2 Z" fill="#ff0000"/>
<path d="M1320.8,487.5 L1329.1,496.8 L1324.0,496.8 L1324.0,504.5 L1317.6,504.5 L1317.6,496.8 L1312.5,496.8 Z" fill="#ff0000"/>
<path d="M1343.6,504.4 L1351.8999999999999,513.6999999999999 L1346.8,513.6999999999999 L1346.8,521.4 L1340.3999999999999,521.4 L1340.3999999999999,513.6999999999999 L1335.3,513.6999999999999 Z" fill="#ff0000"/>
<path d="M148.2,37.9 L153.0,37.9 L153.0,45.7 L157.2,45.7 L150.6,52.9 L144.0,45.7 L148.2,45.7 Z" fill="none" stroke="#00e600" stroke-width="1.4" stroke-linejoin="miter"/>
<path d="M535.5,221.1 L540.3,221.1 L540.3,228.89999999999998 L544.5,228.89999999999998 L537.9,236.1 L531.3,228.89999999999998 L535.5,228.89999999999998 Z" fill="none" stroke="#00e600" stroke-width="1.4" stroke-linejoin="miter"/>
<path d="M877.7,290.9 L882.5,290.9 L882.5,298.7 L886.7,298.7 L880.1,305.9 L873.5,298.7 L877.7,298.7 Z" fill="none" stroke="#00e600" stroke-width="1.4" stroke-linejoin="miter"/>
<path d="M1036.3,357.4 L1041.1000000000001,357.4 L1041.1000000000001,365.2 L1045.3,365.2 L1038.7,372.4 L1032.1000000000001,365.2 L1036.3,365.2 Z" fill="none" stroke="#00e600" stroke-width="1.4" stroke-linejoin="miter"/>
<path d="M1112.8999999999999,339.29999999999995 L1117.7,339.29999999999995 L1117.7,347.09999999999997 L1121.8999999999999,347.09999999999997 L1115.3,354.29999999999995 L1108.7,347.09999999999997 L1112.8999999999999,347.09999999999997 Z" fill="none" stroke="#00e600" stroke-width="1.4" stroke-linejoin="miter"/>
<path d="M1378.5,423.5 L1383.3000000000002,423.5 L1383.3000000000002,431.3 L1387.5,431.3 L1380.9,438.5 L1374.3000000000002,431.3 L1378.5,431.3 Z" fill="none" stroke="#00e600" stroke-width="1.4" stroke-linejoin="miter"/>
<path d="M1393.3,420.29999999999995 L1398.1000000000001,420.29999999999995 L1398.1000000000001,428.09999999999997 L1402.3,428.09999999999997 L1395.7,435.29999999999995 L1389.1000000000001,428.09999999999997 L1393.3,428.09999999999997 Z" fill="none" stroke="#00e600" stroke-width="1.4" stroke-linejoin="miter"/>
<path d="M1417.3,405.0 L1422.1000000000001,405.0 L1422.1000000000001,412.8 L1426.3,412.8 L1419.7,420.0 L1413.1000000000001,412.8 L1417.3,412.8 Z" fill="none" stroke="#00e600" stroke-width="1.4" stroke-linejoin="miter"/>
<path d="M1439.8,388.9 L1444.6000000000001,388.9 L1444.6000000000001,396.7 L1448.8,396.7 L1442.2,403.9 L1435.6000000000001,396.7 L1439.8,396.7 Z" fill="none" stroke="#00e600" stroke-width="1.4" stroke-linejoin="miter"/>
</g>
<g clip-path="url(#cm)" stroke="#0000ff">
<line x1="2" y1="134.8" x2="960.4" y2="519.7" stroke-width="1.3"/>
<line x1="172.6" y1="37.6" x2="1372" y2="518.8" stroke-width="1.3"/>
<line x1="584.3" y1="37.1" x2="1468" y2="390.5" stroke-width="1.3"/>
<line x1="528.5" y1="519.7" x2="1468" y2="234.1" stroke-width="1.3"/>
<line x1="894.3" y1="519.7" x2="1468" y2="345.3" stroke-width="1.3"/>
</g>
<g fill="#0000ff"><rect x="2" y="388" width="1466" height="1.9"/><rect x="2" y="439.1" width="1466" height="1.9"/></g>
<rect x="1366" y="452.9" width="101.5" height="1.5" fill="#b4b4b4"/>
<g fill="none" stroke="#b40000" stroke-width="1.5"><path d="M1435.2,16.3 L1443.4,24.3 L1435.2,32.3 L1427,24.3 Z"/><rect x="1450" y="16.6" width="14.5" height="15.2"/><line x1="1459.7" y1="16.6" x2="1459.7" y2="31.8"/></g>
<g fill="#ff00ff"><rect x="1424" y="37" width="4.5" height="3.2"/><rect x="1431.3" y="37" width="4.7" height="3.2"/><rect x="1438.9" y="37" width="4.7" height="3.2"/></g>
<path d="M2,447.5 L15,465 L15,508 L2,530.5 Z" fill="#4a4a4a" fill-opacity="0.82" stroke="#6a6a6a" stroke-opacity="0.9" stroke-width="1"/>
<path d="M3.5,480 L11.2,487.3 L3.5,494.5 Z" fill="#e8a000"/>
<g>
<rect x="3.55" y="625.1" width="4.5" height="86.1" fill="#54ffff"/>
<rect x="11.05" y="617.8" width="4.5" height="93.4" fill="#54ffff"/>
<rect x="18.55" y="617.8" width="4.5" height="93.4" fill="#ff3232"/>
<rect x="26.05" y="621.7" width="4.5" height="89.5" fill="#54ffff"/>
<rect x="33.55" y="634.1" width="4.5" height="77.1" fill="#ff3232"/>
<rect x="41.05" y="616.3" width="4.5" height="94.9" fill="#ff3232"/>
<rect x="48.55" y="637.4" width="4.5" height="73.8" fill="#ff3232"/>
<rect x="56.05" y="632.7" width="4.5" height="78.5" fill="#54ffff"/>
<rect x="65.05" y="634.1" width="4.5" height="77.1" fill="#54ffff"/>
<rect x="72.55" y="632.7" width="4.5" height="78.5" fill="#54ffff"/>
<rect x="80.05" y="630.2" width="4.5" height="81.0" fill="#ff3232"/>
<rect x="87.55" y="642.0" width="4.5" height="69.2" fill="#54ffff"/>
<rect x="95.05" y="630.2" width="4.5" height="81.0" fill="#ff3232"/>
<rect x="102.55" y="625.1" width="4.5" height="86.1" fill="#ff3232"/>
<rect x="110.05" y="638.6" width="4.5" height="72.6" fill="#54ffff"/>
<rect x="117.55" y="634.7" width="4.5" height="76.5" fill="#ff3232"/>
<rect x="125.05" y="633.6" width="4.5" height="77.6" fill="#54ffff"/>
<rect x="132.55" y="635.2" width="4.5" height="76.0" fill="#ff3232"/>
<rect x="140.05" y="638.6" width="4.5" height="72.6" fill="#ff3232"/>
<rect x="147.55" y="636.9" width="4.5" height="74.3" fill="#54ffff"/>
<rect x="155.05" y="644.6" width="4.5" height="66.6" fill="#54ffff"/>
<rect x="162.55" y="631.0" width="4.5" height="80.2" fill="#ff3232"/>
<rect x="170.05" y="614.6" width="4.5" height="96.6" fill="#ff3232"/>
<rect x="177.55" y="626.8" width="4.5" height="84.4" fill="#ff3232"/>
<rect x="186.55" y="619.2" width="4.5" height="92.0" fill="#54ffff"/>
<rect x="194.05" y="638.6" width="4.5" height="72.6" fill="#54ffff"/>
<rect x="201.55" y="635.8" width="4.5" height="75.4" fill="#54ffff"/>
<rect x="209.05" y="635.8" width="4.5" height="75.4" fill="#54ffff"/>
<rect x="216.55" y="633.6" width="4.5" height="77.6" fill="#54ffff"/>
<rect x="224.05" y="620.5" width="4.5" height="90.7" fill="#54ffff"/>
<rect x="231.55" y="629.3" width="4.5" height="81.9" fill="#ff3232"/>
<rect x="239.05" y="635.8" width="4.5" height="75.4" fill="#54ffff"/>
<rect x="246.55" y="643.2" width="4.5" height="68.0" fill="#ff3232"/>
<rect x="254.05" y="641.5" width="4.5" height="69.7" fill="#ff3232"/>
<rect x="261.55" y="640.3" width="4.5" height="70.9" fill="#ff3232"/>
<rect x="269.05" y="637.4" width="4.5" height="73.8" fill="#54ffff"/>
<rect x="276.55" y="633.0" width="4.5" height="78.2" fill="#54ffff"/>
<rect x="284.05" y="647.6" width="4.5" height="63.6" fill="#54ffff"/>
<rect x="291.55" y="644.6" width="4.5" height="66.6" fill="#ff3232"/>
<rect x="299.05" y="641.2" width="4.5" height="70.0" fill="#54ffff"/>
<rect x="308.05" y="643.2" width="4.5" height="68.0" fill="#ff3232"/>
<rect x="315.55" y="626.8" width="4.5" height="84.4" fill="#54ffff"/>
<rect x="323.05" y="577.2" width="4.5" height="134.0" fill="#54ffff"/>
<rect x="330.55" y="626.8" width="4.5" height="84.4" fill="#ff3232"/>
<rect x="338.05" y="620.9" width="4.5" height="90.3" fill="#54ffff"/>
<rect x="345.55" y="637.4" width="4.5" height="73.8" fill="#ff3232"/>
<rect x="353.05" y="640.3" width="4.5" height="70.9" fill="#54ffff"/>
<rect x="360.55" y="637.4" width="4.5" height="73.8" fill="#ff3232"/>
<rect x="368.05" y="635.8" width="4.5" height="75.4" fill="#54ffff"/>
<rect x="375.55" y="641.5" width="4.5" height="69.7" fill="#54ffff"/>
<rect x="383.05" y="637.4" width="4.5" height="73.8" fill="#ff3232"/>
<rect x="390.55" y="631.4" width="4.5" height="79.8" fill="#54ffff"/>
<rect x="398.05" y="628.5" width="4.5" height="82.7" fill="#ff3232"/>
<rect x="405.55" y="638.6" width="4.5" height="72.6" fill="#54ffff"/>
<rect x="413.05" y="636.9" width="4.5" height="74.3" fill="#54ffff"/>
<rect x="420.55" y="631.4" width="4.5" height="79.8" fill="#ff3232"/>
<rect x="429.55" y="640.3" width="4.5" height="70.9" fill="#ff3232"/>
<rect x="437.05" y="641.5" width="4.5" height="69.7" fill="#ff3232"/>
<rect x="444.55" y="637.8" width="4.5" height="73.4" fill="#54ffff"/>
<rect x="452.05" y="625.1" width="4.5" height="86.1" fill="#ff3232"/>
<rect x="459.55" y="641.5" width="4.5" height="69.7" fill="#54ffff"/>
<rect x="467.05" y="647.6" width="4.5" height="63.6" fill="#54ffff"/>
<rect x="474.55" y="649.3" width="4.5" height="61.9" fill="#54ffff"/>
<rect x="482.05" y="641.5" width="4.5" height="69.7" fill="#54ffff"/>
<rect x="489.55" y="643.7" width="4.5" height="67.5" fill="#54ffff"/>
<rect x="497.05" y="625.1" width="4.5" height="86.1" fill="#ff3232"/>
<rect x="504.55" y="610.4" width="4.5" height="100.8" fill="#ff3232"/>
<rect x="512.05" y="578.9" width="4.5" height="132.3" fill="#ff3232"/>
<rect x="519.55" y="613.2" width="4.5" height="98.0" fill="#54ffff"/>
<rect x="527.05" y="613.2" width="4.5" height="98.0" fill="#54ffff"/>
<rect x="534.55" y="625.9" width="4.5" height="85.3" fill="#54ffff"/>
<rect x="542.05" y="623.4" width="4.5" height="87.8" fill="#54ffff"/>
<rect x="551.05" y="641.5" width="4.5" height="69.7" fill="#ff3232"/>
<rect x="558.55" y="624.2" width="4.5" height="87.0" fill="#54ffff"/>
<rect x="566.05" y="610.4" width="4.5" height="100.8" fill="#54ffff"/>
<rect x="573.55" y="637.4" width="4.5" height="73.8" fill="#54ffff"/>
<rect x="581.05" y="635.8" width="4.5" height="75.4" fill="#54ffff"/>
<rect x="588.55" y="624.2" width="4.5" height="87.0" fill="#ff3232"/>
<rect x="596.05" y="626.8" width="4.5" height="84.4" fill="#54ffff"/>
<rect x="603.55" y="622.5" width="4.5" height="88.7" fill="#ff3232"/>
<rect x="611.05" y="640.3" width="4.5" height="70.9" fill="#ff3232"/>
<rect x="618.55" y="635.8" width="4.5" height="75.4" fill="#ff3232"/>
<rect x="626.05" y="646.2" width="4.5" height="65.0" fill="#ff3232"/>
<rect x="633.55" y="643.2" width="4.5" height="68.0" fill="#54ffff"/>
<rect x="641.05" y="641.5" width="4.5" height="69.7" fill="#ff3232"/>
<rect x="648.55" y="644.6" width="4.5" height="66.6" fill="#54ffff"/>
<rect x="656.05" y="646.2" width="4.5" height="65.0" fill="#ff3232"/>
<rect x="663.55" y="644.6" width="4.5" height="66.6" fill="#ff3232"/>
<rect x="672.55" y="655.0" width="4.5" height="56.2" fill="#54ffff"/>
<rect x="680.05" y="653.4" width="4.5" height="57.8" fill="#ff3232"/>
<rect x="687.55" y="652.2" width="4.5" height="59.0" fill="#ff3232"/>
<rect x="695.05" y="632.7" width="4.5" height="78.5" fill="#ff3232"/>
<rect x="702.55" y="642.0" width="4.5" height="69.2" fill="#54ffff"/>
<rect x="710.05" y="652.2" width="4.5" height="59.0" fill="#54ffff"/>
<rect x="717.55" y="648.8" width="4.5" height="62.4" fill="#54ffff"/>
<rect x="725.05" y="645.9" width="4.5" height="65.3" fill="#54ffff"/>
<rect x="732.55" y="650.5" width="4.5" height="60.7" fill="#ff3232"/>
<rect x="740.05" y="649.6" width="4.5" height="61.6" fill="#ff3232"/>
<rect x="747.55" y="651.0" width="4.5" height="60.2" fill="#54ffff"/>
<rect x="755.05" y="652.2" width="4.5" height="59.0" fill="#54ffff"/>
<rect x="762.55" y="649.6" width="4.5" height="61.6" fill="#ff3232"/>
<rect x="770.05" y="650.5" width="4.5" height="60.7" fill="#54ffff"/>
<rect x="777.55" y="651.7" width="4.5" height="59.5" fill="#54ffff"/>
<rect x="785.05" y="658.1" width="4.5" height="53.1" fill="#54ffff"/>
<rect x="792.55" y="647.9" width="4.5" height="63.3" fill="#ff3232"/>
<rect x="801.55" y="653.0" width="4.5" height="58.2" fill="#54ffff"/>
<rect x="809.05" y="658.1" width="4.5" height="53.1" fill="#54ffff"/>
<rect x="816.55" y="643.2" width="4.5" height="68.0" fill="#ff3232"/>
<rect x="824.05" y="628.5" width="4.5" height="82.7" fill="#ff3232"/>
<rect x="831.55" y="648.8" width="4.5" height="62.4" fill="#54ffff"/>
<rect x="839.05" y="619.5" width="4.5" height="91.7" fill="#ff3232"/>
<rect x="846.55" y="646.2" width="4.5" height="65.0" fill="#ff3232"/>
<rect x="854.05" y="629.7" width="4.5" height="81.5" fill="#ff3232"/>
<rect x="861.55" y="639.1" width="4.5" height="72.1" fill="#54ffff"/>
<rect x="869.05" y="634.1" width="4.5" height="77.1" fill="#ff3232"/>
<rect x="876.55" y="623.9" width="4.5" height="87.3" fill="#54ffff"/>
<rect x="884.05" y="643.2" width="4.5" height="68.0" fill="#ff3232"/>
<rect x="891.55" y="644.6" width="4.5" height="66.6" fill="#ff3232"/>
<rect x="899.05" y="596.8" width="4.5" height="114.4" fill="#54ffff"/>
<rect x="906.55" y="612.1" width="4.5" height="99.1" fill="#ff3232"/>
<rect x="914.05" y="642.0" width="4.5" height="69.2" fill="#54ffff"/>
<rect x="923.05" y="642.0" width="4.5" height="69.2" fill="#54ffff"/>
<rect x="930.55" y="635.8" width="4.5" height="75.4" fill="#54ffff"/>
<rect x="938.05" y="637.4" width="4.5" height="73.8" fill="#54ffff"/>
<rect x="945.55" y="625.1" width="4.5" height="86.1" fill="#ff3232"/>
<rect x="953.05" y="587.9" width="4.5" height="123.3" fill="#ff3232"/>
<rect x="960.55" y="607.3" width="4.5" height="103.9" fill="#54ffff"/>
<rect x="968.05" y="618.3" width="4.5" height="92.9" fill="#ff3232"/>
<rect x="975.55" y="616.6" width="4.5" height="94.6" fill="#ff3232"/>
<rect x="983.05" y="617.8" width="4.5" height="93.4" fill="#54ffff"/>
<rect x="990.55" y="632.7" width="4.5" height="78.5" fill="#54ffff"/>
<rect x="998.05" y="614.9" width="4.5" height="96.3" fill="#ff3232"/>
<rect x="1005.55" y="605.6" width="4.5" height="105.6" fill="#ff3232"/>
<rect x="1013.05" y="593.8" width="4.5" height="117.4" fill="#54ffff"/>
<rect x="1020.55" y="580.2" width="4.5" height="131.0" fill="#ff3232"/>
<rect x="1028.05" y="598.9" width="4.5" height="112.3" fill="#54ffff"/>
<rect x="1035.55" y="616.1" width="4.5" height="95.1" fill="#54ffff"/>
<rect x="1044.55" y="610.4" width="4.5" height="100.8" fill="#54ffff"/>
<rect x="1052.05" y="617.8" width="4.5" height="93.4" fill="#54ffff"/>
<rect x="1059.55" y="622.2" width="4.5" height="89.0" fill="#54ffff"/>
<rect x="1067.05" y="609.0" width="4.5" height="102.2" fill="#ff3232"/>
<rect x="1074.55" y="566.7" width="4.5" height="144.5" fill="#ff3232"/>
<rect x="1082.05" y="572.6" width="4.5" height="138.6" fill="#54ffff"/>
<rect x="1089.55" y="590.7" width="4.5" height="120.5" fill="#ff3232"/>
<rect x="1097.05" y="571.4" width="4.5" height="139.8" fill="#ff3232"/>
<rect x="1104.55" y="577.2" width="4.5" height="134.0" fill="#ff3232"/>
<rect x="1112.05" y="586.2" width="4.5" height="125.0" fill="#54ffff"/>
<rect x="1119.55" y="604.3" width="4.5" height="106.9" fill="#ff3232"/>
<rect x="1127.05" y="623.9" width="4.5" height="87.3" fill="#54ffff"/>
<rect x="1134.55" y="599.7" width="4.5" height="111.5" fill="#54ffff"/>
<rect x="1142.05" y="632.7" width="4.5" height="78.5" fill="#54ffff"/>
<rect x="1149.55" y="638.6" width="4.5" height="72.6" fill="#54ffff"/>
<rect x="1157.05" y="625.1" width="4.5" height="86.1" fill="#ff3232"/>
<rect x="1166.05" y="619.2" width="4.5" height="92.0" fill="#54ffff"/>
<rect x="1173.55" y="630.2" width="4.5" height="81.0" fill="#ff3232"/>
<rect x="1181.05" y="590.7" width="4.5" height="120.5" fill="#ff3232"/>
<rect x="1188.55" y="613.2" width="4.5" height="98.0" fill="#ff3232"/>
<rect x="1196.05" y="620.0" width="4.5" height="91.2" fill="#ff3232"/>
<rect x="1203.55" y="628.5" width="4.5" height="82.7" fill="#54ffff"/>
<rect x="1211.05" y="646.2" width="4.5" height="65.0" fill="#54ffff"/>
<rect x="1218.55" y="644.7" width="4.5" height="66.5" fill="#54ffff"/>
<rect x="1226.05" y="650.6" width="4.5" height="60.6" fill="#ff3232"/>
<rect x="1233.55" y="650.6" width="4.5" height="60.6" fill="#54ffff"/>
<rect x="1241.05" y="623.9" width="4.5" height="87.3" fill="#ff3232"/>
<rect x="1248.55" y="625.1" width="4.5" height="86.1" fill="#54ffff"/>
<rect x="1256.05" y="642.0" width="4.5" height="69.2" fill="#ff3232"/>
<rect x="1263.55" y="642.0" width="4.5" height="69.2" fill="#54ffff"/>
<rect x="1271.05" y="647.9" width="4.5" height="63.3" fill="#54ffff"/>
<rect x="1278.55" y="642.0" width="4.5" height="69.2" fill="#54ffff"/>
<rect x="1287.55" y="644.6" width="4.5" height="66.6" fill="#54ffff"/>
<rect x="1295.05" y="653.9" width="4.5" height="57.3" fill="#ff3232"/>
<rect x="1302.55" y="628.5" width="4.5" height="82.7" fill="#ff3232"/>
<rect x="1310.05" y="647.9" width="4.5" height="63.3" fill="#54ffff"/>
<rect x="1317.55" y="631.4" width="4.5" height="79.8" fill="#54ffff"/>
<rect x="1325.05" y="643.2" width="4.5" height="68.0" fill="#ff3232"/>
<rect x="1332.55" y="646.2" width="4.5" height="65.0" fill="#54ffff"/>
<rect x="1340.05" y="640.3" width="4.5" height="70.9" fill="#ff3232"/>
<rect x="1347.55" y="613.2" width="4.5" height="98.0" fill="#ff3232"/>
<rect x="1355.05" y="607.3" width="4.5" height="103.9" fill="#ff3232"/>
<rect x="1362.55" y="619.5" width="4.5" height="91.7" fill="#54ffff"/>
<rect x="1370.05" y="599.7" width="4.5" height="111.5" fill="#ff3232"/>
<rect x="1377.55" y="617.8" width="4.5" height="93.4" fill="#54ffff"/>
<rect x="1385.05" y="625.1" width="4.5" height="86.1" fill="#ff3232"/>
<rect x="1392.55" y="626.8" width="4.5" height="84.4" fill="#54ffff"/>
<rect x="1400.05" y="619.5" width="4.5" height="91.7" fill="#ff3232"/>
<rect x="1409.05" y="623.4" width="4.5" height="87.8" fill="#ff3232"/>
<rect x="1416.55" y="617.5" width="4.5" height="93.7" fill="#54ffff"/>
<rect x="1424.05" y="599.7" width="4.5" height="111.5" fill="#ff3232"/>
<rect x="1431.55" y="615.8" width="4.5" height="95.4" fill="#ff3232"/>
<rect x="1439.05" y="622.2" width="4.5" height="89.0" fill="#54ffff"/>
</g>
<g>
<polyline fill="none" stroke="#ffffff" stroke-width="1.4" stroke-linejoin="round" points="5.8,624.2 13.3,625.1 20.8,625.6 28.3,623.4 35.8,623.3 43.3,621.5 50.8,625.5 58.3,628.4 67.3,630.9 74.8,630.6 82.3,633.4 89.8,634.3 97.3,633.8 104.8,632.0 112.3,633.2 119.8,634.1 127.3,632.4 134.8,633.4 142.3,636.1 149.8,635.8 157.3,637.8 164.8,637.3 172.3,633.1 179.8,630.8 188.8,627.2 196.3,626.0 203.8,627.0 211.3,631.2 218.8,632.6 226.3,632.9 233.8,631.0 241.3,631.0 248.8,632.5 256.3,634.1 263.8,638.0 271.3,639.6 278.8,639.1 286.3,640.0 293.8,640.6 301.3,640.8 310.3,641.9 317.8,640.7 325.3,626.6 332.8,623.0 340.3,619.0 347.8,617.8 355.3,620.5 362.8,632.6 370.3,634.4 377.8,638.5 385.3,638.5 392.8,636.7 400.3,634.9 407.8,635.5 415.3,634.6 422.8,633.4 431.8,635.1 439.3,637.7 446.8,637.6 454.3,635.2 461.8,637.2 469.3,638.7 476.8,640.3 484.3,641.0 491.8,644.7 499.3,641.4 506.8,634.0 514.3,619.9 521.8,614.3 529.3,608.2 536.8,608.3 544.3,610.9 553.3,623.4 560.8,625.6 568.3,625.1 575.8,627.4 583.3,629.9 590.8,626.4 598.3,626.9 605.8,629.3 613.3,629.9 620.8,629.9 628.3,634.3 635.8,637.6 643.3,641.4 650.8,642.3 658.3,644.3 665.8,644.0 674.8,646.4 682.3,648.8 689.8,650.3 697.3,647.6 704.8,647.1 712.3,646.5 719.8,645.6 727.3,644.3 734.8,647.9 742.3,649.4 749.8,649.2 757.3,649.8 764.8,650.6 772.3,650.6 779.8,651.0 787.3,652.4 794.8,651.6 803.8,652.2 811.3,653.8 818.8,652.1 826.3,646.1 833.8,646.3 841.3,639.6 848.8,637.2 856.3,634.5 863.8,636.7 871.3,633.7 878.8,634.6 886.3,634.0 893.8,637.0 901.3,628.5 908.8,624.1 916.3,627.7 925.3,627.5 932.8,625.7 940.3,633.9 947.8,636.5 955.3,625.6 962.8,618.7 970.3,615.2 977.8,611.0 985.3,609.6 992.8,618.5 1000.3,620.1 1007.8,617.5 1015.3,613.0 1022.8,605.4 1030.3,598.7 1037.8,598.9 1046.8,599.9 1054.3,604.7 1061.8,613.1 1069.3,615.1 1076.8,605.2 1084.3,597.7 1091.8,592.2 1099.3,582.1 1106.8,575.7 1114.3,579.6 1121.8,586.0 1129.3,592.6 1136.8,598.3 1144.3,609.4 1151.8,619.8 1159.3,624.0 1168.3,623.1 1175.8,629.2 1183.3,620.8 1190.8,615.7 1198.3,614.7 1205.8,616.5 1213.3,619.7 1220.8,630.5 1228.3,638.0 1235.8,644.1 1243.3,643.2 1250.8,639.0 1258.3,638.4 1265.8,636.7 1273.3,636.2 1280.8,639.8 1289.8,643.7 1297.3,646.1 1304.8,643.4 1312.3,643.4 1319.8,641.3 1327.3,641.0 1334.8,639.4 1342.3,641.8 1349.8,634.9 1357.3,630.0 1364.8,625.3 1372.3,616.0 1379.8,611.5 1387.3,613.9 1394.8,617.8 1402.3,617.8 1411.3,622.5 1418.8,622.5 1426.3,617.4 1433.8,615.2 1441.3,615.7" />
<polyline fill="none" stroke="#ffff00" stroke-width="1.7" stroke-linejoin="round" points="5.8,621.2 13.3,622.5 20.8,623.4 28.3,623.4 35.8,622.9 43.3,623.4 50.8,623.4 58.3,625.1 67.3,625.9 74.8,627.0 82.3,627.5 89.8,629.9 97.3,631.1 104.8,631.5 112.3,631.9 119.8,633.8 127.3,633.4 134.8,633.6 142.3,634.1 149.8,634.5 157.3,636.0 164.8,634.9 172.3,633.3 179.8,633.5 188.8,631.5 196.3,631.9 203.8,632.1 211.3,632.2 218.8,631.7 226.3,630.0 233.8,628.5 241.3,629.0 248.8,631.9 256.3,633.3 263.8,635.4 271.3,635.3 278.8,635.0 286.3,636.2 293.8,637.3 301.3,639.4 310.3,640.8 317.8,639.9 325.3,633.3 332.8,631.8 340.3,629.9 347.8,629.9 355.3,630.6 362.8,629.6 370.3,628.7 377.8,628.7 385.3,628.1 392.8,628.6 400.3,633.7 407.8,634.9 415.3,636.5 422.8,635.9 431.8,635.9 439.3,636.3 446.8,636.5 454.3,634.9 461.8,635.3 469.3,636.9 476.8,639.0 484.3,639.3 491.8,640.0 499.3,639.3 506.8,636.4 514.3,630.1 521.8,627.6 529.3,626.4 536.8,624.9 544.3,622.5 553.3,621.7 560.8,620.0 568.3,616.6 575.8,617.9 583.3,620.4 590.8,624.9 598.3,626.3 605.8,627.2 613.3,628.6 620.8,629.9 628.3,630.4 635.8,632.3 643.3,635.4 650.8,636.1 658.3,637.1 665.8,639.2 674.8,642.0 682.3,645.1 689.8,646.3 697.3,646.0 704.8,645.5 712.3,646.4 719.8,647.2 727.3,647.3 734.8,647.7 742.3,648.2 749.8,647.8 757.3,647.7 764.8,647.5 772.3,649.2 779.8,650.2 787.3,650.8 794.8,650.7 803.8,651.4 811.3,652.2 818.8,651.5 826.3,649.3 833.8,648.9 841.3,645.9 848.8,645.5 856.3,643.3 863.8,641.4 871.3,640.0 878.8,637.1 886.3,635.6 893.8,635.8 901.3,632.6 908.8,628.9 916.3,631.2 925.3,630.8 932.8,631.4 940.3,631.2 947.8,630.3 955.3,626.7 962.8,623.1 970.3,620.5 977.8,622.5 985.3,623.0 992.8,622.1 1000.3,619.4 1007.8,616.4 1015.3,612.0 1022.8,607.5 1030.3,608.6 1037.8,609.5 1046.8,608.7 1054.3,608.8 1061.8,609.3 1069.3,606.9 1076.8,602.1 1084.3,598.8 1091.8,598.5 1099.3,597.6 1106.8,595.4 1114.3,592.4 1121.8,591.8 1129.3,592.4 1136.8,590.2 1144.3,592.5 1151.8,599.7 1159.3,605.0 1168.3,607.8 1175.8,613.7 1183.3,615.1 1190.8,617.8 1198.3,619.3 1205.8,619.8 1213.3,624.4 1220.8,625.6 1228.3,626.8 1235.8,629.4 1243.3,629.9 1250.8,629.4 1258.3,634.5 1265.8,637.4 1273.3,640.1 1280.8,641.5 1289.8,641.3 1297.3,642.3 1304.8,640.0 1312.3,639.8 1319.8,640.5 1327.3,642.3 1334.8,642.8 1342.3,642.6 1349.8,639.1 1357.3,635.6 1364.8,633.1 1372.3,627.7 1379.8,626.6 1387.3,624.4 1394.8,623.9 1402.3,621.5 1411.3,619.3 1418.8,617.0 1426.3,615.6 1433.8,616.5 1441.3,616.8" />
</g>
<g clip-path="url(#ck)">
<polyline fill="none" stroke="#ff00ff" stroke-width="1.4" stroke-linejoin="round" points="5.8,869.8 13.3,857.9 20.8,840.3 28.3,846.2 35.8,855.0 43.3,825.0 50.8,814.1 58.3,827.0 67.3,825.2 74.8,821.8 82.3,803.9 89.8,801.7 97.3,764.5 104.8,751.6 112.3,753.2 119.8,747.1 127.3,756.0 134.8,757.4 142.3,753.2 149.8,771.3 157.3,792.9 164.8,774.0 172.3,769.1 179.8,771.7 188.8,817.3 196.3,856.5 203.8,874.8 211.3,875.0 218.8,882.2 226.3,888.6 233.8,863.5 241.3,857.9 248.8,846.6 256.3,818.6 263.8,797.3 271.3,788.3 278.8,816.2 286.3,839.7 293.8,824.1 301.3,842.1 310.3,857.1 317.8,862.1 325.3,862.2 332.8,858.9 340.3,869.1 347.8,857.0 355.3,860.4 362.8,857.1 370.3,862.7 377.8,868.5 385.3,845.6 392.8,851.9 400.3,839.7 407.8,841.8 415.3,853.0 422.8,837.9 431.8,794.1 439.3,764.8 446.8,778.5 454.3,754.9 461.8,748.2 469.3,757.1 476.8,771.5 484.3,786.9 491.8,828.9 499.3,796.7 506.8,771.7 514.3,758.9 521.8,757.0 529.3,769.3 536.8,780.7 544.3,789.5 553.3,789.1 560.8,815.9 568.3,846.0 575.8,871.1 583.3,883.1 590.8,858.5 598.3,854.1 605.8,831.3 613.3,818.6 620.8,817.0 628.3,795.8 635.8,820.5 643.3,838.1 650.8,862.8 658.3,851.6 665.8,824.9 674.8,822.8 682.3,811.6 689.8,804.9 697.3,764.8 704.8,753.8 712.3,756.6 719.8,779.3 727.3,819.5 734.8,839.0 742.3,821.5 749.8,851.3 757.3,870.1 764.8,869.0 772.3,880.4 779.8,875.6 787.3,872.3 794.8,846.3 803.8,835.9 811.3,853.7 818.8,815.1 826.3,776.8 833.8,762.0 841.3,743.3 848.8,745.0 856.3,749.5 863.8,761.3 871.3,754.8 878.8,799.8 886.3,838.9 893.8,859.5 901.3,875.9 908.8,867.9 916.3,873.2 925.3,879.3 932.8,871.1 940.3,877.0 947.8,850.8 955.3,807.0 962.8,790.8 970.3,781.8 977.8,777.9 985.3,779.7 992.8,804.7 1000.3,808.5 1007.8,797.4 1015.3,802.2 1022.8,768.4 1030.3,759.7 1037.8,759.2 1046.8,768.6 1054.3,779.0 1061.8,804.8 1069.3,814.0 1076.8,800.3 1084.3,814.3 1091.8,784.4 1099.3,776.2 1106.8,760.0 1114.3,793.4 1121.8,808.0 1129.3,819.9 1136.8,861.1 1144.3,876.9 1151.8,884.3 1159.3,867.0 1168.3,875.9 1175.8,866.4 1183.3,798.6 1190.8,758.5 1198.3,754.0 1205.8,787.0 1213.3,805.6 1220.8,832.3 1228.3,838.0 1235.8,835.0 1243.3,812.3 1250.8,837.0 1258.3,843.9 1265.8,856.1 1273.3,869.6 1280.8,864.7 1289.8,864.1 1297.3,856.8 1304.8,849.8 1312.3,847.7 1319.8,851.7 1327.3,845.7 1334.8,857.0 1342.3,859.0 1349.8,801.1 1357.3,760.7 1364.8,749.8 1372.3,756.8 1379.8,768.7 1387.3,764.3 1394.8,776.4 1402.3,761.2 1411.3,755.2 1418.8,779.6 1426.3,764.5 1433.8,766.0 1441.3,795.2" />
<polyline fill="none" stroke="#ffff00" stroke-width="1.4" stroke-linejoin="round" points="5.8,819.2 13.3,825.2 20.8,827.2 28.3,830.1 35.8,834.7 43.3,832.7 50.8,830.7 58.3,828.7 67.3,828.1 74.8,827.2 82.3,823.9 89.8,820.7 97.3,812.7 104.8,804.0 112.3,796.7 119.8,789.6 127.3,784.8 134.8,780.9 142.3,777.0 149.8,776.1 157.3,778.5 164.8,777.9 172.3,776.6 179.8,775.9 188.8,781.8 196.3,792.5 203.8,804.3 211.3,814.4 218.8,824.1 226.3,833.3 233.8,837.6 241.3,840.5 248.8,841.4 256.3,838.1 263.8,832.3 271.3,826.0 278.8,824.6 286.3,826.8 293.8,826.4 301.3,828.6 310.3,832.7 317.8,836.9 325.3,840.5 332.8,843.1 340.3,846.8 347.8,848.3 355.3,850.0 362.8,851.0 370.3,852.7 377.8,855.0 385.3,853.6 392.8,853.4 400.3,851.4 407.8,850.1 415.3,850.5 422.8,848.7 431.8,840.9 439.3,830.0 446.8,822.7 454.3,813.0 461.8,803.7 469.3,797.1 476.8,793.4 484.3,792.5 491.8,797.7 499.3,797.6 506.8,793.9 514.3,788.9 521.8,784.3 529.3,782.2 536.8,782.0 544.3,783.0 553.3,783.9 560.8,788.5 568.3,796.7 575.8,807.3 583.3,818.1 590.8,823.9 598.3,828.2 605.8,828.7 613.3,827.2 620.8,825.8 628.3,821.5 635.8,821.3 643.3,823.7 650.8,829.3 658.3,832.5 665.8,831.4 674.8,830.2 682.3,827.5 689.8,824.3 697.3,815.8 704.8,806.9 712.3,799.8 719.8,796.8 727.3,800.1 734.8,805.6 742.3,807.9 749.8,814.1 757.3,822.1 764.8,828.8 772.3,836.2 779.8,841.8 787.3,846.2 794.8,846.2 803.8,844.7 811.3,846.0 818.8,841.6 826.3,832.3 833.8,822.3 841.3,811.0 848.8,801.6 856.3,794.1 863.8,789.4 871.3,784.5 878.8,786.7 886.3,794.1 893.8,803.5 901.3,813.8 908.8,821.5 916.3,828.9 925.3,836.1 932.8,841.1 940.3,846.2 947.8,846.9 955.3,841.2 962.8,834.0 970.3,826.5 977.8,819.6 985.3,813.9 992.8,812.6 1000.3,812.0 1007.8,809.9 1015.3,808.8 1022.8,803.0 1030.3,796.9 1037.8,791.5 1046.8,788.2 1054.3,786.9 1061.8,789.4 1069.3,793.0 1076.8,794.0 1084.3,796.9 1091.8,795.1 1099.3,792.4 1106.8,787.8 1114.3,788.6 1121.8,791.4 1129.3,795.4 1136.8,804.8 1144.3,815.1 1151.8,825.0 1159.3,831.0 1168.3,837.4 1175.8,841.6 1183.3,835.4 1190.8,824.4 1198.3,814.4 1205.8,810.4 1213.3,809.8 1220.8,813.0 1228.3,816.5 1235.8,819.2 1243.3,818.2 1250.8,820.9 1258.3,824.2 1265.8,828.7 1273.3,834.6 1280.8,838.9 1289.8,842.5 1297.3,844.5 1304.8,845.3 1312.3,845.6 1319.8,846.5 1327.3,846.4 1334.8,847.9 1342.3,849.5 1349.8,842.6 1357.3,830.9 1364.8,819.3 1372.3,810.4 1379.8,804.4 1387.3,798.7 1394.8,795.5 1402.3,790.6 1411.3,785.5 1418.8,784.7 1426.3,781.8 1433.8,779.5 1441.3,781.8" />
<polyline fill="none" stroke="#ffffff" stroke-width="1.4" stroke-linejoin="round" points="5.8,836.1 13.3,836.1 20.8,831.5 28.3,835.5 35.8,841.5 43.3,830.1 50.8,825.2 58.3,828.1 67.3,827.2 74.8,825.4 82.3,817.2 89.8,814.4 97.3,796.6 104.8,786.5 112.3,782.2 119.8,775.5 127.3,775.2 134.8,773.1 142.3,769.0 149.8,774.5 157.3,783.3 164.8,776.6 172.3,774.1 179.8,774.5 188.8,793.7 196.3,813.9 203.8,827.8 211.3,834.6 218.8,843.4 226.3,851.7 233.8,846.2 241.3,846.3 248.8,843.1 256.3,831.6 263.8,820.6 271.3,813.4 278.8,821.8 286.3,831.1 293.8,825.6 301.3,833.1 310.3,840.8 317.8,845.3 325.3,847.7 332.8,848.4 340.3,854.3 347.8,851.2 355.3,853.5 362.8,853.1 370.3,856.1 377.8,859.5 385.3,851.0 392.8,852.9 400.3,847.5 407.8,847.3 415.3,851.3 422.8,845.1 431.8,825.3 439.3,808.3 446.8,807.9 454.3,793.6 461.8,785.2 469.3,783.7 476.8,786.1 484.3,790.6 491.8,808.1 499.3,797.3 506.8,786.5 514.3,778.9 521.8,775.2 529.3,777.9 536.8,781.5 544.3,785.2 553.3,785.6 560.8,797.6 568.3,813.1 575.8,828.6 583.3,839.8 590.8,835.4 598.3,836.8 605.8,829.6 613.3,824.4 620.8,822.9 628.3,812.9 635.8,821.1 643.3,828.5 650.8,840.5 658.3,838.9 665.8,829.2 674.8,827.7 682.3,822.2 689.8,817.8 697.3,798.8 704.8,789.2 712.3,785.4 719.8,791.0 727.3,806.5 734.8,816.8 742.3,812.4 749.8,826.5 757.3,838.1 764.8,842.2 772.3,850.9 779.8,853.1 787.3,854.9 794.8,846.2 803.8,841.8 811.3,848.6 818.8,832.8 826.3,813.8 833.8,802.2 841.3,788.4 848.8,782.7 856.3,779.2 863.8,780.0 871.3,774.6 878.8,791.1 886.3,809.1 893.8,822.2 901.3,834.5 908.8,837.0 916.3,843.7 925.3,850.5 932.8,851.1 940.3,856.5 947.8,848.2 955.3,829.8 962.8,819.6 970.3,811.6 977.8,805.7 985.3,802.5 992.8,810.0 1000.3,810.8 1007.8,805.7 1015.3,806.6 1022.8,791.5 1030.3,784.5 1037.8,780.7 1046.8,781.7 1054.3,784.3 1061.8,794.6 1069.3,800.0 1076.8,796.1 1084.3,802.7 1091.8,791.6 1099.3,787.0 1106.8,778.5 1114.3,790.2 1121.8,796.9 1129.3,803.6 1136.8,823.6 1144.3,835.7 1151.8,844.7 1159.3,843.0 1168.3,850.2 1175.8,849.8 1183.3,823.1 1190.8,802.5 1198.3,794.2 1205.8,802.6 1213.3,808.4 1220.8,819.4 1228.3,823.7 1235.8,824.4 1243.3,816.2 1250.8,826.3 1258.3,830.7 1265.8,837.8 1273.3,846.2 1280.8,847.5 1289.8,849.7 1297.3,848.6 1304.8,846.8 1312.3,846.3 1319.8,848.2 1327.3,846.1 1334.8,850.9 1342.3,852.6 1349.8,828.7 1357.3,807.5 1364.8,796.1 1372.3,792.5 1379.8,792.5 1387.3,787.2 1394.8,789.1 1402.3,780.8 1411.3,775.4 1418.8,783.0 1426.3,776.0 1433.8,775.0 1441.3,786.3" />
</g>
<rect x="0" y="0" width="1490" height="10.6" fill="url(#tg)"/>
<rect x="3" y="0" width="24.5" height="1.3" fill="#f6f6f6"/>
<rect x="0" y="0" width="2" height="886" fill="#e8e8e8"/>
<g fill="none" stroke="#d0d0d0" stroke-width="1.2"><path d="M172.5,39.5 L188,45.5 M172,43.5 L172.5,39.5 L176.5,39.8"/></g>
<path d="M188,45.5 L190.5,44.5 L195.5,40" fill="none" stroke="#00d000" stroke-width="1.3"/>
<g fill="none" stroke="#d0d0d0" stroke-width="1.3"><path d="M1350.5,510.5 L1367,510.5 M1355,506.5 L1350.5,510.5 L1355,515.5"/></g>
<g font-family="'Liberation Sans', 'Noto Sans CJK SC', sans-serif">
<text x="2.6" y="30.9" fill="#c4c4c4" font-size="19" font-weight="400" textLength="181" lengthAdjust="spacingAndGlyphs">上证指数(日线.前复权)</text>
<text x="210.40" y="29.6" fill="#e6e6e6" font-size="17.7" textLength="39.86" lengthAdjust="spacing">MA5:</text>
<text x="254.42" y="29.6" fill="#e6e6e6" font-size="17.7" textLength="66.94" lengthAdjust="spacing">2583.26</text>
<text x="329.52" y="29.6" fill="#ffff00" font-size="17.7" textLength="49.06" lengthAdjust="spacing">MA10:</text>
<text x="383.88" y="29.6" fill="#ffff00" font-size="17.7" textLength="65.36" lengthAdjust="spacing">2565.57</text>
<text x="458.18" y="29.6" fill="#ff00ff" font-size="17.7" textLength="49.74" lengthAdjust="spacing">MA20:</text>
<text x="512.20" y="29.6" fill="#ff00ff" font-size="17.7" textLength="65.92" lengthAdjust="spacing">2533.34</text>
<text x="587.30" y="29.6" fill="#00e600" font-size="17.7" textLength="59.96" lengthAdjust="spacing">MA250:</text>
<text x="651.42" y="29.6" fill="#00e600" font-size="17.7" textLength="66.70" lengthAdjust="spacing">2904.72</text>
<text x="0.16" y="556.3" fill="#e6e6e6" font-size="17.7" textLength="80.54" lengthAdjust="spacing">VOLUME:</text>
<text x="84.64" y="556.3" fill="#e6e6e6" font-size="17.7" textLength="119.38" lengthAdjust="spacing">152537776.00</text>
<text x="211.96" y="556.3" fill="#e6e6e6" font-size="17.7" textLength="40.42" lengthAdjust="spacing">MA5:</text>
<text x="256.74" y="556.3" fill="#e6e6e6" font-size="17.7" textLength="118.28" lengthAdjust="spacing">163699952.00</text>
<text x="383.42" y="556.3" fill="#ffff00" font-size="17.7" textLength="48.94" lengthAdjust="spacing">MA10:</text>
<text x="437.20" y="556.3" fill="#ffff00" font-size="17.7" textLength="118.92" lengthAdjust="spacing">162479712.00</text>
<text x="2.08" y="731.4" fill="#c0c0c0" font-size="17.7" textLength="86.40" lengthAdjust="spacing">KDJ(9,3,3)</text>
<text x="95.96" y="731.4" fill="#e6e6e6" font-size="17.7" textLength="17.20" lengthAdjust="spacing">K:</text>
<text x="117.86" y="731.4" fill="#e6e6e6" font-size="17.7" textLength="44.70" lengthAdjust="spacing">76.30</text>
<text x="171.42" y="731.4" fill="#ffff00" font-size="17.7" textLength="17.84" lengthAdjust="spacing">D:</text>
<text x="194.88" y="731.4" fill="#ffff00" font-size="17.7" textLength="44.58" lengthAdjust="spacing">80.49</text>
<text x="248.22" y="731.4" fill="#ff00ff" font-size="17.7" textLength="12.38" lengthAdjust="spacing">J:</text>
<text x="266.54" y="731.4" fill="#ff00ff" font-size="17.7" textLength="44.92" lengthAdjust="spacing">67.94</text>
<text x="193.6" y="54.9" fill="#c0c0c0" font-size="17.7" >3219.74</text>
<g clip-path="url(#cm)">
<text x="1369.2" y="475.3" fill="#c0c0c0" font-size="17.7" letter-spacing="0.55">2531.35 - 2596.01</text>
</g>
<text x="1369.6" y="518.7" fill="#c0c0c0" font-size="17.7" >2440.91</text>
<text x="1471.3" y="707.6" fill="#e63232" font-size="18.5" >X10</text>
<text x="1482.6" y="768" fill="#e63232" font-size="18.5" >100</text>
</g>
<path d="M198.4,14.7 L206.3,23.5 L201.2,23.5 L201.2,30.8 L195.6,30.8 L195.6,23.5 L190.5,23.5 Z" fill="#ff0000"/>
</svg>
</body></html>
